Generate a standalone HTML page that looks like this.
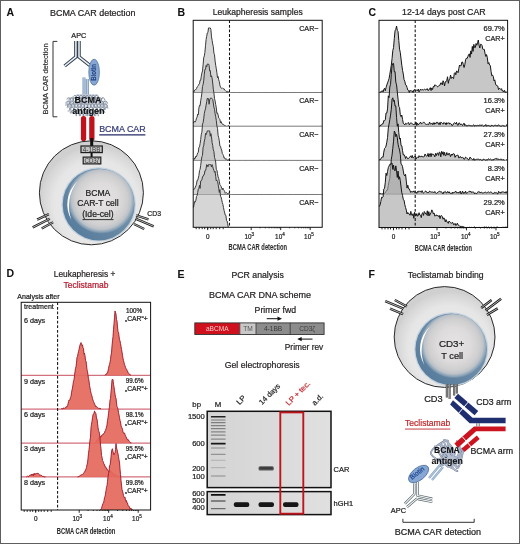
<!DOCTYPE html><html><head><meta charset="utf-8"><style>html,body{margin:0;padding:0;background:#fff}svg{display:block;will-change:transform}text{font-family:"Liberation Sans",sans-serif}</style></head><body>
<svg width="520" height="544" viewBox="0 0 520 544">
<defs>
<linearGradient id="ring" x1="0.1" y1="0.9" x2="0.9" y2="0.1"><stop offset="0" stop-color="#557b9b"/><stop offset="1" stop-color="#8099b0"/></linearGradient>
<radialGradient id="nin" cx="0.52" cy="0.45" r="0.5">
<stop offset="0" stop-color="#e6e4e4"/><stop offset="0.5" stop-color="#dddbdb"/><stop offset="0.75" stop-color="#d0cfd0"/><stop offset="0.87" stop-color="#bfc4c9" stop-opacity="0.97"/><stop offset="0.95" stop-color="#a3b5c4" stop-opacity="0.6"/><stop offset="1" stop-color="#8fa8bd" stop-opacity="0"/></radialGradient>
<radialGradient id="cell" cx="0.55" cy="0.6" r="0.55">
<stop offset="0" stop-color="#eeeeee"/><stop offset="0.75" stop-color="#e6e6e6"/><stop offset="0.95" stop-color="#d6d6d6"/><stop offset="1" stop-color="#d0d0d0"/></radialGradient>
<linearGradient id="gelg" x1="0" x2="1" y1="0" y2="0"><stop offset="0" stop-color="#d4d4d4"/><stop offset="0.5" stop-color="#dadada"/><stop offset="1" stop-color="#e0e0e0"/></linearGradient>
<filter id="bl" x="-20%" y="-100%" width="140%" height="300%"><feGaussianBlur stdDeviation="0.55"/></filter>
</defs>
<rect x="0" y="0" width="520" height="544" fill="#fff"/>
<text x="6.5" y="15.5" font-size="10.5" font-weight="bold" fill="#111" stroke="#111" stroke-width="0.05">A</text>
<text x="177.6" y="15.5" font-size="10.5" font-weight="bold" fill="#111" stroke="#111" stroke-width="0.05">B</text>
<text x="368.6" y="15.5" font-size="10.5" font-weight="bold" fill="#111" stroke="#111" stroke-width="0.05">C</text>
<text x="6.6" y="277.4" font-size="10.5" font-weight="bold" fill="#111" stroke="#111" stroke-width="0.05">D</text>
<text x="177.6" y="277.5" font-size="10.5" font-weight="bold" fill="#111" stroke="#111" stroke-width="0.05">E</text>
<text x="368.4" y="277.5" font-size="10.5" font-weight="bold" fill="#111" stroke="#111" stroke-width="0.05">F</text>
<text x="50" y="15.5" font-size="8.7" fill="#231f20" stroke="#231f20" stroke-width="0.22" textLength="85.5" lengthAdjust="spacingAndGlyphs">BCMA CAR detection</text>
<text x="212.7" y="15.4" font-size="8.7" fill="#231f20" stroke="#231f20" stroke-width="0.22" textLength="90" lengthAdjust="spacingAndGlyphs">Leukapheresis samples</text>
<text x="402" y="15.2" font-size="8.7" fill="#231f20" stroke="#231f20" stroke-width="0.22" textLength="83.6" lengthAdjust="spacingAndGlyphs">12-14 days post CAR</text>
<text x="53.8" y="277.3" font-size="8.7" fill="#231f20" stroke="#231f20" stroke-width="0.22" textLength="61.5" lengthAdjust="spacingAndGlyphs">Leukapheresis +</text>
<text x="63.5" y="287.9" font-size="8.7" fill="#b5182e" stroke="#b5182e" stroke-width="0.22" textLength="45" lengthAdjust="spacingAndGlyphs">Teclistamab</text>
<text x="231.5" y="277.5" font-size="8.7" fill="#231f20" stroke="#231f20" stroke-width="0.22" textLength="52.3" lengthAdjust="spacingAndGlyphs">PCR analysis</text>
<text x="407.7" y="277.5" font-size="8.7" fill="#231f20" stroke="#231f20" stroke-width="0.22" textLength="76" lengthAdjust="spacingAndGlyphs">Teclistamab binding</text>
<path d="M57.3,41.4 H53 V116.8 H57.3" fill="none" stroke="#333" stroke-width="1"/>
<text transform="translate(48.2,114.4) rotate(-90)" font-size="7.5" fill="#333" stroke="#333" stroke-width="0.2" textLength="71" lengthAdjust="spacingAndGlyphs">BCMA CAR detection</text>
<text x="71.3" y="37.5" font-size="7" fill="#231f20" stroke="#231f20" stroke-width="0.22" textLength="15" lengthAdjust="spacingAndGlyphs">APC</text>
<path d="M75.9,41 V56.8 L64.6,66 M79,41 V56.8 L89.8,65.3" fill="none" stroke="#34424f" stroke-width="3.5" stroke-linejoin="miter"/>
<path d="M75.9,41 V56.8 L64.6,66 M79,41 V56.8 L89.8,65.3" fill="none" stroke="#eef3f8" stroke-width="1.5" stroke-linejoin="miter"/>
<path d="M84,77.5 V97 M87.4,79 V97" stroke="#86a0bf" stroke-width="3.1"/>
<path d="M84,77.5 V97 M87.4,79 V97" stroke="#bfd0e4" stroke-width="1.1"/>
<ellipse cx="94.1" cy="72.2" rx="5.3" ry="13" fill="#86a6d3" stroke="#56779f" stroke-width="0.8"/>
<text transform="translate(96.3,80.7) rotate(-90)" font-size="7" fill="#1a3a7a" stroke="#1a3a7a" stroke-width="0.2" textLength="16.7" lengthAdjust="spacingAndGlyphs">Biotin</text>
<path d="M75.8,95.2 L76.6,96.5 L76.4,97.5 L76.0,97.2 L76.2,95.8 L77.5,94.8 L79.0,95.2 L79.7,96.6 L79.4,97.6 L79.0,97.1 L79.3,95.7 L80.7,94.8 L82.1,95.3 L82.7,96.7 L82.4,97.6 L82.0,97.0 L82.5,95.6 L83.8,94.8 L85.3,95.4 L85.8,96.9 L85.4,97.6 L85.1,96.9 L85.6,95.4 L87.0,94.8 L88.4,95.6 L88.8,97.0 L88.4,97.6 L88.1,96.8 L88.8,95.3 L90.2,94.8 L91.5,95.7 L91.9,97.1 L91.5,97.6 L91.2,96.6 L91.9,95.2 L93.4,94.8 L94.7,95.8 L94.9,97.2 L94.5,97.5 L94.3,96.5 L95.1,95.2 L96.6,94.8 L97.8,95.9 L98.0,97.2 M68.7,99.9 L69.3,98.8 L70.4,98.2 L71.7,98.4 L72.7,99.3 L73.0,100.4 L72.8,100.9 L72.6,100.6 L72.7,99.7 L73.5,98.6 L74.7,98.1 L76.0,98.5 L76.8,99.5 L77.0,100.5 L76.8,100.9 L76.6,100.5 L76.9,99.4 L77.7,98.5 L79.0,98.2 L80.2,98.7 L80.9,99.8 L81.0,100.7 L80.7,100.9 L80.6,100.3 L81.0,99.2 L82.0,98.3 L83.3,98.2 L84.4,98.9 L85.0,100.0 L84.9,100.8 L84.7,100.8 L84.6,100.1 L85.2,99.0 L86.3,98.2 L87.6,98.3 L88.6,99.2 L89.0,100.2 L88.9,100.9 L88.6,100.7 L88.7,99.8 L89.4,98.7 L90.6,98.2 L91.8,98.4 L92.7,99.4 L93.0,100.5 L92.8,100.9 L92.6,100.6 L92.8,99.6 L93.6,98.5 L94.8,98.1 L96.1,98.6 L96.8,99.6 L97.0,100.6 L96.8,100.9 L96.6,100.4 L96.9,99.3 L97.8,98.4 L99.1,98.2 L100.3,98.8 L100.9,99.9 L101.0,100.8 L100.7,100.9 L100.6,100.2 L101.1,99.1 L102.1,98.3 L103.4,98.2 M66.9,101.7 L67.6,102.8 L67.7,103.8 L67.4,104.0 L67.3,103.3 L67.7,102.2 L68.7,101.4 L70.0,101.3 L71.1,102.1 L71.6,103.2 L71.5,103.9 L71.2,103.9 L71.2,103.0 L71.9,101.9 L73.0,101.2 L74.3,101.5 L75.2,102.4 L75.5,103.5 L75.3,104.0 L75.1,103.6 L75.3,102.6 L76.1,101.6 L77.3,101.2 L78.5,101.7 L79.3,102.8 L79.4,103.7 L79.1,104.0 L79.0,103.4 L79.4,102.3 L80.3,101.4 L81.6,101.3 L82.7,102.0 L83.3,103.1 L83.2,103.9 L82.9,103.9 L82.9,103.0 L83.5,101.9 L84.6,101.3 L85.9,101.4 L86.9,102.3 L87.2,103.4 L87.0,104.0 L86.8,103.7 L86.9,102.7 L87.7,101.6 L89.0,101.2 L90.2,101.7 L91.0,102.7 L91.1,103.7 L90.8,104.0 L90.7,103.4 L91.0,102.3 L92.0,101.4 L93.3,101.3 L94.4,102.0 L95.0,103.1 L94.9,103.9 L94.7,103.9 L94.6,103.1 L95.2,102.0 L96.3,101.3 L97.6,101.4 L98.5,102.3 L98.9,103.4 L98.8,104.0 L98.5,103.7 L98.6,102.7 L99.4,101.7 L100.6,101.2 L101.8,101.6 L102.6,102.6 L102.8,103.7 L102.6,104.0 L102.4,103.5 L102.7,102.4 L103.6,101.4 L104.9,101.2 L106.0,101.9 L106.6,103.0 M65.9,106.0 L65.9,104.7 L67.0,103.5 L68.5,103.7 L69.5,104.9 L69.4,106.1 L68.9,105.9 L69.0,104.7 L70.1,103.5 L71.6,103.7 L72.5,105.0 L72.4,106.1 L72.0,105.9 L72.1,104.6 L73.2,103.5 L74.7,103.7 L75.6,105.0 L75.5,106.1 L75.0,105.9 L75.2,104.6 L76.3,103.5 L77.8,103.7 L78.7,105.0 L78.5,106.1 L78.1,105.9 L78.2,104.6 L79.4,103.5 L80.9,103.7 L81.7,105.0 L81.6,106.1 L81.1,105.9 L81.3,104.6 L82.5,103.5 L84.0,103.7 L84.8,105.1 L84.7,106.1 L84.2,105.9 L84.4,104.5 L85.6,103.5 L87.0,103.8 L87.9,105.1 L87.7,106.1 L87.2,105.8 L87.4,104.5 L88.6,103.5 L90.1,103.8 L90.9,105.1 L90.8,106.1 L90.3,105.8 L90.5,104.5 L91.7,103.5 L93.2,103.8 L94.0,105.2 L93.8,106.2 L93.3,105.8 L93.6,104.4 L94.8,103.5 L96.3,103.8 L97.1,105.2 L96.9,106.2 L96.4,105.8 L96.7,104.4 L97.9,103.4 L99.4,103.8 L100.1,105.2 L99.9,106.2 L99.5,105.8 L99.8,104.4 L101.0,103.4 L102.5,103.9 L103.2,105.2 L103.0,106.2 L102.5,105.7 L102.8,104.4 L104.1,103.4 L105.6,103.9 L106.3,105.3 L106.0,106.2 L105.6,105.7 M66.9,108.1 L67.9,107.0 L69.2,106.9 L70.3,107.6 L70.8,108.8 L70.7,109.6 L70.4,109.4 L70.5,108.3 L71.3,107.2 L72.6,106.8 L73.8,107.4 L74.5,108.6 L74.4,109.5 L74.1,109.5 L74.1,108.6 L74.7,107.4 L75.9,106.8 L77.2,107.2 L78.1,108.3 L78.2,109.3 L77.9,109.6 L77.7,108.9 L78.2,107.7 L79.3,106.9 L80.6,107.0 L81.6,108.0 L81.9,109.1 L81.6,109.6 L81.4,109.1 L81.7,108.0 L82.7,107.0 L84.0,106.9 L85.1,107.7 L85.6,108.9 L85.4,109.6 L85.1,109.3 L85.2,108.2 L86.1,107.2 L87.4,106.8 L88.6,107.5 L89.2,108.7 L89.1,109.5 L88.8,109.5 L88.8,108.5 L89.5,107.4 L90.8,106.8 L92.0,107.3 L92.8,108.4 L92.9,109.4 L92.6,109.6 L92.4,108.8 L93.0,107.6 L94.1,106.9 L95.5,107.1 L96.4,108.1 L96.6,109.2 L96.3,109.6 L96.1,109.0 L96.5,107.9 L97.5,107.0 L98.9,106.9 L99.9,107.8 L100.3,109.0 L100.1,109.6 L99.8,109.2 L100.0,108.1 L100.9,107.1 L102.2,106.8 L103.4,107.6 L103.9,108.7 L103.8,109.5 L103.5,109.4 L103.6,108.4 L104.3,107.3 L105.6,106.8 L106.9,107.3 L107.6,108.5 M67.6,111.5 L68.8,110.5 L70.3,110.8 L71.0,112.2 L70.8,113.2 L70.4,112.8 L70.6,111.4 L71.9,110.5 L73.3,110.9 L74.1,112.3 L73.8,113.2 L73.4,112.7 L73.7,111.4 L75.0,110.5 L76.4,111.0 L77.1,112.4 L76.8,113.2 L76.4,112.7 L76.8,111.3 L78.1,110.4 L79.5,111.0 L80.1,112.4 L79.8,113.2 L79.4,112.6 L79.8,111.2 L81.2,110.4 L82.6,111.1 L83.1,112.5 L82.8,113.2 L82.4,112.5 L82.9,111.1 L84.3,110.4 L85.7,111.2 L86.1,112.6 L85.8,113.2 L85.4,112.5 L86.0,111.1 L87.4,110.4 L88.7,111.2 L89.2,112.6 L88.7,113.2 L88.4,112.4 L89.1,111.0 L90.5,110.4 L91.8,111.3 L92.2,112.7 L91.7,113.2 L91.5,112.3 L92.1,110.9 L93.6,110.5 L94.9,111.4 L95.2,112.8 L94.7,113.2 L94.5,112.2 L95.2,110.9 L96.7,110.5 L97.9,111.5 L98.2,112.8 L97.7,113.2 L97.5,112.2 L98.3,110.8 L99.8,110.5 L101.0,111.5 L101.2,112.9 L100.7,113.2 L100.6,112.1 L101.4,110.8 L102.9,110.5 L104.0,111.6 L104.2,112.9 M76.2,115.3 L76.0,114.4 L76.7,113.1 L78.1,112.6 L79.4,113.4 L79.9,114.7 L79.5,115.4 L79.2,114.7 L79.7,113.4 L81.0,112.6 L82.4,113.1 L83.1,114.4 L82.9,115.3 L82.4,115.0 L82.7,113.7 L83.8,112.7 L85.3,112.9 L86.2,114.1 L86.2,115.2 L85.7,115.2 L85.7,114.0 L86.7,112.8 L88.2,112.7 L89.3,113.8 L89.4,115.0 L89.0,115.3 L88.9,114.4 L89.6,113.0 L91.0,112.6 L92.3,113.4 L92.7,114.8 L92.3,115.4 L92.0,114.7 L92.5,113.3 L93.9,112.6 L95.2,113.2 L95.9,114.5 L95.7,115.4 L95.2,114.9 L95.5,113.6 L96.7,112.6 L98.2,112.9" fill="none" stroke="#c3cad4" stroke-width="1.6" stroke-linejoin="round"/>
<path d="M73.0,98.1 L73.1,96.7 L74.2,95.5 L75.7,95.7 L76.7,97.0 L76.6,98.2 L76.1,98.1 L76.2,96.8 L77.3,95.5 L78.8,95.6 L79.8,97.0 L79.7,98.2 L79.2,98.2 L79.3,96.8 L80.3,95.6 L81.8,95.6 L82.8,96.9 L82.8,98.2 L82.4,98.2 L82.4,96.9 L83.4,95.6 L84.9,95.6 L85.9,96.9 L85.9,98.2 L85.5,98.2 L85.4,96.9 L86.4,95.6 L87.9,95.6 L89.0,96.8 L89.0,98.1 L88.6,98.2 L88.5,97.0 L89.5,95.7 L91.0,95.5 L92.1,96.7 L92.2,98.1 L91.7,98.3 L91.6,97.1 L92.5,95.7 L94.0,95.5 L95.1,96.7 L95.3,98.1 L94.8,98.3 L94.7,97.1 L95.6,95.7 L97.1,95.5 L98.2,96.6 L98.4,98.0 L97.9,98.3 M66.8,99.5 L67.5,98.1 L69.0,97.7 L70.2,98.7 L70.5,100.1 L70.1,100.6 L69.9,99.7 L70.5,98.2 L72.0,97.6 L73.3,98.5 L73.7,100.0 L73.3,100.6 L73.0,99.8 L73.5,98.3 L74.9,97.6 L76.3,98.4 L76.8,99.9 L76.4,100.6 L76.1,99.9 L76.6,98.4 L77.9,97.6 L79.3,98.3 L79.9,99.7 L79.6,100.6 L79.2,100.0 L79.6,98.6 L80.9,97.6 L82.3,98.2 L83.0,99.6 L82.8,100.6 L82.3,100.2 L82.6,98.7 L83.8,97.7 L85.3,98.0 L86.1,99.5 L85.9,100.6 L85.5,100.3 L85.7,98.9 L86.8,97.7 L88.3,97.9 L89.2,99.3 L89.1,100.5 L88.6,100.4 L88.7,99.0 L89.8,97.8 L91.3,97.9 L92.2,99.2 L92.2,100.4 L91.8,100.4 L91.8,99.2 L92.7,97.9 L94.2,97.8 L95.3,99.0 L95.4,100.3 L94.9,100.5 L94.8,99.3 L95.7,98.0 L97.2,97.7 L98.3,98.9 L98.5,100.3 L98.1,100.6 L97.9,99.5 L98.7,98.1 L100.2,97.7 L101.4,98.7 L101.7,100.1 L101.2,100.6 L101.0,99.6 L101.7,98.2 L103.1,97.6 L104.4,98.6 L104.8,100.0 M65.9,103.6 L66.0,102.5 L66.9,101.4 L68.2,101.0 L69.4,101.6 L70.0,102.8 L70.0,103.8 L69.7,103.8 L69.7,102.9 L70.3,101.7 L71.5,101.0 L72.8,101.3 L73.6,102.4 L73.8,103.6 L73.5,103.9 L73.3,103.3 L73.7,102.1 L74.8,101.1 L76.1,101.1 L77.2,102.0 L77.6,103.2 L77.4,103.9 L77.1,103.6 L77.3,102.5 L78.1,101.3 L79.4,101.0 L80.6,101.6 L81.3,102.9 L81.2,103.8 L80.9,103.8 L80.9,102.9 L81.5,101.6 L82.7,101.0 L84.0,101.3 L84.9,102.4 L85.0,103.6 L84.8,103.9 L84.6,103.3 L85.0,102.0 L86.0,101.1 L87.4,101.1 L88.4,102.0 L88.8,103.3 L88.6,103.9 L88.3,103.6 L88.5,102.4 L89.4,101.3 L90.7,101.0 L91.9,101.7 L92.5,102.9 L92.4,103.8 L92.1,103.8 L92.1,102.8 L92.7,101.6 L94.0,101.0 L95.3,101.3 L96.1,102.5 L96.2,103.6 L96.0,103.9 L95.8,103.2 L96.2,102.0 L97.3,101.1 L98.6,101.1 L99.6,102.1 L100.0,103.3 L99.8,103.9 L99.5,103.5 L99.7,102.4 L100.6,101.3 L101.9,101.0 L103.1,101.7 L103.7,102.9 L103.6,103.8 L103.3,103.8 L103.3,102.8 L104.0,101.6 L105.2,101.0 L106.5,101.4 L107.3,102.5 L107.5,103.6 M67.1,104.2 L68.0,105.4 L68.0,106.6 L67.6,106.7 L67.5,105.6 L68.3,104.3 L69.8,103.9 L71.0,104.8 L71.4,106.2 L71.1,106.8 L70.8,106.2 L71.2,104.8 L72.4,103.9 L73.8,104.2 L74.6,105.6 L74.6,106.7 L74.1,106.6 L74.1,105.5 L75.0,104.2 L76.5,103.9 L77.6,104.9 L78.0,106.3 L77.6,106.8 L77.3,106.1 L77.8,104.7 L79.1,103.9 L80.5,104.3 L81.2,105.7 L81.1,106.7 L80.7,106.6 L80.8,105.4 L81.7,104.1 L83.1,103.9 L84.3,105.0 L84.5,106.4 L84.2,106.8 L83.9,106.0 L84.5,104.6 L85.8,103.8 L87.1,104.4 L87.8,105.8 L87.7,106.8 L87.3,106.5 L87.4,105.2 L88.4,104.1 L89.8,104.0 L90.9,105.1 L91.1,106.4 L90.7,106.8 L90.5,105.9 L91.1,104.5 L92.5,103.8 L93.8,104.5 L94.4,105.9 L94.2,106.8 L93.8,106.5 L94.0,105.1 L95.1,104.0 L96.5,104.0 L97.5,105.2 L97.7,106.5 L97.3,106.8 L97.1,105.8 L97.8,104.4 L99.2,103.8 L100.5,104.6 L101.0,106.0 L100.8,106.8 L100.4,106.4 L100.7,105.0 L101.8,104.0 L103.2,104.1 L104.2,105.3 L104.3,106.6 L103.8,106.7 L103.7,105.7 L104.5,104.3 L105.9,103.9 L107.1,104.7 L107.6,106.1 L107.3,106.8 L107.0,106.3 M69.2,107.6 L69.9,108.8 L70.1,109.8 L69.8,110.1 L69.6,109.5 L70.0,108.3 L71.0,107.4 L72.3,107.2 L73.4,108.0 L73.9,109.2 L73.9,110.1 L73.6,110.0 L73.6,109.1 L74.2,107.9 L75.3,107.2 L76.6,107.4 L77.6,108.4 L77.9,109.6 L77.7,110.1 L77.4,109.7 L77.6,108.6 L78.4,107.5 L79.7,107.2 L80.9,107.7 L81.6,108.9 L81.7,109.9 L81.4,110.1 L81.3,109.4 L81.7,108.2 L82.8,107.3 L84.1,107.3 L85.2,108.1 L85.6,109.3 L85.5,110.1 L85.2,109.9 L85.3,109.0 L85.9,107.8 L87.1,107.2 L88.4,107.5 L89.3,108.6 L89.5,109.7 L89.3,110.2 L89.1,109.7 L89.3,108.5 L90.2,107.5 L91.5,107.2 L92.7,107.8 L93.4,109.0 L93.4,110.0 L93.1,110.1 L93.0,109.3 L93.5,108.1 L94.6,107.3 L95.9,107.3 L96.9,108.2 L97.3,109.4 L97.2,110.1 L96.9,109.9 L97.0,108.9 L97.7,107.7 L98.9,107.2 L100.2,107.6 L101.0,108.7 L101.2,109.8 L101.0,110.1 L100.8,109.6 L101.1,108.4 L102.0,107.4 L103.3,107.2 L104.5,107.9 L105.1,109.1 L105.0,110.0 L104.7,110.0 L104.7,109.2 L105.2,108.0 L106.4,107.2 L107.7,107.4 L108.6,108.3 M71.0,113.1 L71.2,111.9 L72.1,110.8 L73.5,110.5 L74.6,111.3 L75.2,112.6 L75.1,113.4 L74.8,113.3 L74.8,112.2 L75.6,111.0 L76.8,110.5 L78.1,111.1 L78.8,112.3 L78.9,113.3 L78.5,113.4 L78.4,112.5 L79.0,111.3 L80.2,110.5 L81.5,110.8 L82.4,112.0 L82.6,113.1 L82.3,113.5 L82.1,112.8 L82.5,111.6 L83.6,110.6 L85.0,110.7 L86.0,111.7 L86.3,112.9 L86.1,113.5 L85.8,113.0 L86.1,111.9 L87.0,110.8 L88.3,110.6 L89.5,111.4 L90.0,112.6 L89.9,113.4 L89.6,113.2 L89.7,112.2 L90.4,111.0 L91.7,110.5 L93.0,111.1 L93.7,112.3 L93.7,113.3 L93.3,113.4 L93.3,112.5 L93.9,111.2 L95.1,110.5 L96.4,110.9 L97.3,112.0 L97.4,113.2 L97.1,113.5 L97.0,112.8 L97.4,111.5 L98.5,110.6 L99.8,110.7 L100.8,111.7 L101.2,112.9 L100.9,113.5 L100.7,113.0 L100.9,111.8 L101.9,110.7 L103.2,110.6 L104.4,111.4 L104.9,112.7 M76.7,115.5 L76.4,116.1 L76.2,115.5 L76.5,114.3 L77.5,113.2 L78.9,113.2 L80.0,114.2 L80.3,115.5 L80.1,116.1 L79.8,115.5 L80.1,114.3 L81.1,113.2 L82.5,113.2 L83.6,114.2 L83.9,115.5 L83.7,116.1 L83.4,115.5 L83.7,114.3 L84.8,113.2 L86.2,113.2 L87.2,114.2 L87.6,115.5 L87.3,116.1 L87.0,115.5 L87.4,114.3 L88.4,113.2 L89.8,113.2 L90.9,114.2 L91.2,115.5 L91.0,116.1 L90.7,115.5 L91.0,114.3 L92.0,113.2 L93.4,113.2 L94.5,114.2 L94.8,115.5 L94.6,116.1 L94.3,115.5 L94.6,114.3 L95.6,113.2 L97.0,113.2 L98.1,114.2 L98.5,115.5 L98.2,116.1 L97.9,115.6" fill="none" stroke="#7c8798" stroke-width="0.85" stroke-linejoin="round"/>
<text x="74.6" y="103" font-size="8.6" font-weight="bold" fill="#111" stroke="#111" stroke-width="0.05" textLength="27" lengthAdjust="spacingAndGlyphs">BCMA</text>
<text x="72.3" y="113.8" font-size="8.6" font-weight="bold" fill="#111" stroke="#111" stroke-width="0.05" textLength="32.3" lengthAdjust="spacingAndGlyphs">antigen</text>
<rect x="80.9" y="116" width="5.3" height="25" rx="2.6" fill="#c0121c"/>
<rect x="89.2" y="116" width="5.3" height="25" rx="2.6" fill="#c0121c"/>
<circle cx="91.4" cy="192.8" r="52" fill="url(#cell)" stroke="#2a2a2a" stroke-width="1"/>
<rect x="90.2" y="138" width="3" height="8" fill="#111"/>
<rect x="90.6" y="152" width="2" height="5" fill="#111"/>
<rect x="81" y="146" width="21.3" height="6.6" fill="#c4c4c4" stroke="#1e1e1e" stroke-width="1.2"/>
<text x="91.6" y="151.7" font-size="6.3" fill="#333" text-anchor="middle" textLength="17.5" lengthAdjust="spacingAndGlyphs">4-1BB</text>
<rect x="83.2" y="157.1" width="17.6" height="6.8" fill="#c4c4c4" stroke="#1e1e1e" stroke-width="1.2"/>
<text x="92" y="162.9" font-size="6.3" fill="#333" text-anchor="middle" textLength="15" lengthAdjust="spacingAndGlyphs">CD3ζ</text>
<text x="99.2" y="131.9" font-size="8.9" fill="#363c78" stroke="#363c78" stroke-width="0.22" textLength="46.5" lengthAdjust="spacingAndGlyphs">BCMA CAR</text>
<rect x="99.2" y="134.1" width="46.2" height="1.5" fill="#4a4e80"/>
<circle cx="98.7" cy="204.4" r="37.199999999999996" fill="#c3d2de"/>
<circle cx="98.7" cy="204.4" r="36.0" fill="url(#ring)"/>
<circle cx="100.0" cy="203.1" r="34.099999999999994" fill="url(#nin)"/>
<path d="M77.3,181.4 A31.4,31.4 0 0 0 71.5,220.1 A40.52,40.52 0 0 1 77.3,181.4 Z" fill="#fff" opacity="1"/>
<text x="97.9" y="195.8" font-size="8.6" fill="#222" stroke="#222" stroke-width="0.22" text-anchor="middle">BCMA</text>
<text x="97.9" y="206.4" font-size="8.6" fill="#222" stroke="#222" stroke-width="0.22" text-anchor="middle">CAR-T cell</text>
<text x="97.9" y="216.6" font-size="8.6" fill="#222" stroke="#222" stroke-width="0.22" text-anchor="middle">(Ide-cel)</text>
<rect x="82.5" y="219.2" width="31" height="0.9" fill="#222"/>
<path d="M37.1,219.7 L48.9,214.1 M32.7,227.4 L49.8,218.7 M41.7,228.5 L53.1,222.3" stroke="#1a1a1a" stroke-width="2.4" fill="none"/>
<path d="M37.1,219.7 L48.9,214.1 M32.7,227.4 L49.8,218.7 M41.7,228.5 L53.1,222.3" stroke="#d8d8d8" stroke-width="0.8" fill="none"/>
<path d="M136.1,215.4 L148.5,219.4 M135.5,218.6 L153.7,226.3 M134,224 L144.2,229" stroke="#1a1a1a" stroke-width="2.4" fill="none"/>
<path d="M136.1,215.4 L148.5,219.4 M135.5,218.6 L153.7,226.3 M134,224 L144.2,229" stroke="#d8d8d8" stroke-width="0.8" fill="none"/>
<text x="147.3" y="215.7" font-size="7.2" fill="#222" stroke="#222" stroke-width="0.22" textLength="13.8" lengthAdjust="spacingAndGlyphs">CD3</text>
<line x1="193.2" y1="92.5" x2="322.2" y2="92.5" stroke="#555" stroke-width="0.8"/>
<line x1="193.2" y1="126.2" x2="322.2" y2="126.2" stroke="#555" stroke-width="0.8"/>
<line x1="193.2" y1="160.4" x2="322.2" y2="160.4" stroke="#555" stroke-width="0.8"/>
<line x1="193.2" y1="194.5" x2="322.2" y2="194.5" stroke="#555" stroke-width="0.8"/>
<path d="M193.20,92.50 L193.50,91.40 L194.10,91.75 L194.70,90.05 L195.30,89.53 L195.90,89.62 L196.50,88.60 L197.10,86.95 L197.70,86.43 L198.30,85.52 L198.90,84.14 L199.50,83.77 L200.10,80.15 L200.70,80.26 L201.30,76.18 L201.90,73.06 L202.50,70.94 L203.10,64.85 L203.70,57.93 L204.30,55.91 L204.90,52.35 L205.50,45.74 L206.10,39.46 L206.70,36.27 L207.30,32.93 L207.90,32.59 L208.50,27.96 L209.10,27.96 L209.70,27.96 L210.30,27.96 L210.90,29.61 L211.50,36.91 L212.10,40.34 L212.70,44.10 L213.30,46.54 L213.90,53.08 L214.50,54.85 L215.10,61.05 L215.70,65.25 L216.30,68.78 L216.90,72.82 L217.50,77.75 L218.10,76.52 L218.70,79.81 L219.30,81.71 L219.90,85.16 L220.50,87.23 L221.10,87.96 L221.70,88.46 L222.30,87.90 L222.90,88.51 L223.50,88.72 L224.10,88.81 L224.70,90.09 L225.30,90.50 L225.90,91.13 L226.50,91.34 L227.10,91.91 L227.70,91.34 L228.30,91.58 L228.90,92.01 L229.50,92.27 L230.10,92.10 L230.70,92.10 L231.30,92.17 L231.90,92.16 L232.50,92.48 L233.10,92.42 L233.70,92.47 L234.30,92.49 L234.90,92.50 L235.50,92.32 L236.10,92.10 L236.70,92.50 L237.30,92.10 L237.90,92.50 L238.50,92.50 L239.10,92.50 L239.70,92.50 L240.30,92.30 L240.90,92.50 L241.50,92.29 L242.10,92.48 L242.70,92.44 L243.30,92.17 L243.90,92.50 L244.50,92.50 L245.10,92.50 L245.70,92.26 L246.30,92.10 L246.90,92.50 L247.50,92.50 L248.10,92.50 L248.70,92.37 L249.30,92.50 L249.90,92.50 L250.50,92.47 L251.10,92.48 L251.70,92.50 L252.30,92.24 L252.90,92.50 L253.50,92.50 L254.10,92.50 L254.70,92.48 L255.30,92.50 L255.90,92.10 L256.50,92.50 L257.10,92.35 L257.70,92.50 L258.30,92.42 L258.90,92.50 L259.50,92.50 L260.10,92.11 L260.70,92.50 L261.30,92.10 L261.90,92.50 L262.50,92.50 L263.10,92.23 L263.70,92.50 L264.30,92.50 L264.90,92.50 L265.50,92.39 L266.10,92.36 L266.70,92.50 L267.30,92.50 L267.90,92.30 L268.50,92.39 L269.10,92.50 L269.70,92.48 L270.30,92.10 L270.90,92.47 L271.50,92.50 L272.10,92.50 L272.70,92.50 L273.30,92.42 L273.90,92.28 L274.50,92.50 L275.10,92.50 L275.70,92.25 L276.30,92.32 L276.90,92.17 L277.50,92.50 L278.10,92.50 L278.70,92.26 L279.30,92.50 L279.90,92.42 L280.50,92.50 L281.10,92.50 L281.70,92.14 L282.30,92.50 L282.90,92.50 L283.50,92.50 L284.10,92.44 L284.70,92.50 L285.30,92.50 L285.90,92.50 L286.50,92.50 L287.10,92.26 L287.70,92.15 L288.30,92.21 L288.90,92.50 L289.50,92.40 L290.10,92.34 L290.70,92.50 L291.30,92.30 L291.90,92.50 L292.50,92.50 L293.10,92.50 L293.70,92.50 L294.30,92.50 L294.90,92.27 L295.50,92.50 L296.10,92.50 L296.70,92.50 L297.30,92.10 L297.90,92.50 L298.50,92.39 L299.10,92.10 L299.70,92.50 L300.30,92.50 L300.90,92.50 L301.50,92.50 L302.10,92.20 L302.70,92.50 L303.30,92.25 L303.90,92.37 L304.50,92.50 L305.10,92.27 L305.70,92.50 L306.30,92.25 L306.90,92.50 L307.50,92.50 L308.10,92.21 L308.70,92.50 L309.30,92.39 L309.90,92.50 L310.50,92.50 L311.10,92.50 L311.70,92.19 L312.30,92.50 L312.90,92.30 L313.50,92.39 L314.10,92.50 L314.70,92.50 L315.30,92.33 L315.90,92.50 L316.50,92.50 L317.10,92.43 L317.70,92.50 L318.30,92.50 L318.90,92.49 L319.50,92.32 L320.10,92.10 L320.70,92.42 L321.30,92.47 L321.90,92.30 L322.20,92.50" fill="rgba(182,182,182,0.56)"/>
<path d="M193.50,91.40 L194.10,91.75 L194.70,90.05 L195.30,89.53 L195.90,89.62 L196.50,88.60 L197.10,86.95 L197.70,86.43 L198.30,85.52 L198.90,84.14 L199.50,83.77 L200.10,80.15 L200.70,80.26 L201.30,76.18 L201.90,73.06 L202.50,70.94 L203.10,64.85 L203.70,57.93 L204.30,55.91 L204.90,52.35 L205.50,45.74 L206.10,39.46 L206.70,36.27 L207.30,32.93 L207.90,32.59 L208.50,27.96 L209.10,27.96 L209.70,27.96 L210.30,27.96 L210.90,29.61 L211.50,36.91 L212.10,40.34 L212.70,44.10 L213.30,46.54 L213.90,53.08 L214.50,54.85 L215.10,61.05 L215.70,65.25 L216.30,68.78 L216.90,72.82 L217.50,77.75 L218.10,76.52 L218.70,79.81 L219.30,81.71 L219.90,85.16 L220.50,87.23 L221.10,87.96 L221.70,88.46 L222.30,87.90 L222.90,88.51 L223.50,88.72 L224.10,88.81 L224.70,90.09 L225.30,90.50 L225.90,91.13 L226.50,91.34 L227.10,92.50 M227.10,92.50 L227.70,91.34 L228.30,91.58 L228.90,92.50" fill="none" stroke="#3a3a3a" stroke-width="1" stroke-linejoin="round"/>
<path d="M193.20,126.20 L193.50,123.08 L194.10,121.52 L194.70,121.47 L195.30,121.92 L195.90,120.50 L196.50,118.05 L197.10,117.15 L197.70,114.12 L198.30,114.84 L198.90,108.18 L199.50,105.32 L200.10,105.81 L200.70,100.83 L201.30,97.32 L201.90,92.87 L202.50,86.59 L203.10,84.47 L203.70,80.91 L204.30,74.21 L204.90,69.42 L205.50,69.37 L206.10,65.52 L206.70,66.90 L207.30,64.04 L207.90,64.04 L208.50,64.04 L209.10,65.29 L209.70,71.00 L210.30,70.63 L210.90,76.92 L211.50,75.75 L212.10,78.15 L212.70,83.02 L213.30,89.13 L213.90,92.82 L214.50,98.41 L215.10,100.96 L215.70,104.46 L216.30,107.91 L216.90,113.55 L217.50,112.97 L218.10,114.98 L218.70,117.91 L219.30,118.49 L219.90,119.55 L220.50,122.77 L221.10,121.57 L221.70,123.23 L222.30,124.21 L222.90,123.94 L223.50,124.85 L224.10,125.00 L224.70,125.51 L225.30,125.55 L225.90,125.95 L226.50,125.81 L227.10,126.12 L227.70,126.20 L228.30,125.46 L228.90,125.92 L229.50,125.83 L230.10,125.80 L230.70,125.84 L231.30,126.08 L231.90,126.20 L232.50,125.89 L233.10,126.00 L233.70,125.86 L234.30,126.20 L234.90,126.20 L235.50,126.20 L236.10,126.04 L236.70,126.20 L237.30,126.20 L237.90,126.07 L238.50,126.19 L239.10,126.20 L239.70,126.09 L240.30,126.20 L240.90,126.20 L241.50,125.89 L242.10,125.92 L242.70,126.20 L243.30,125.98 L243.90,126.10 L244.50,126.20 L245.10,126.20 L245.70,126.20 L246.30,125.87 L246.90,126.10 L247.50,126.20 L248.10,126.19 L248.70,125.95 L249.30,126.20 L249.90,126.20 L250.50,126.10 L251.10,126.20 L251.70,126.11 L252.30,126.20 L252.90,126.20 L253.50,126.13 L254.10,126.20 L254.70,126.20 L255.30,126.20 L255.90,126.01 L256.50,126.20 L257.10,126.20 L257.70,126.14 L258.30,126.02 L258.90,126.20 L259.50,126.20 L260.10,126.04 L260.70,126.20 L261.30,125.80 L261.90,125.88 L262.50,125.80 L263.10,126.20 L263.70,126.20 L264.30,126.20 L264.90,126.20 L265.50,126.20 L266.10,125.98 L266.70,126.20 L267.30,126.20 L267.90,125.84 L268.50,126.14 L269.10,126.09 L269.70,126.20 L270.30,126.20 L270.90,126.20 L271.50,126.15 L272.10,126.20 L272.70,126.20 L273.30,126.20 L273.90,126.20 L274.50,125.82 L275.10,126.06 L275.70,126.20 L276.30,126.20 L276.90,125.80 L277.50,125.80 L278.10,126.20 L278.70,126.10 L279.30,126.20 L279.90,126.20 L280.50,126.14 L281.10,125.80 L281.70,126.20 L282.30,126.20 L282.90,125.97 L283.50,126.20 L284.10,126.20 L284.70,126.14 L285.30,126.20 L285.90,126.09 L286.50,126.20 L287.10,126.20 L287.70,126.01 L288.30,125.80 L288.90,126.20 L289.50,126.15 L290.10,126.15 L290.70,126.20 L291.30,126.20 L291.90,126.15 L292.50,126.07 L293.10,125.80 L293.70,126.18 L294.30,126.20 L294.90,126.20 L295.50,126.20 L296.10,126.09 L296.70,125.82 L297.30,126.20 L297.90,126.20 L298.50,126.20 L299.10,126.20 L299.70,126.17 L300.30,126.20 L300.90,126.13 L301.50,125.89 L302.10,126.20 L302.70,126.20 L303.30,126.20 L303.90,126.20 L304.50,126.20 L305.10,126.20 L305.70,126.00 L306.30,126.14 L306.90,126.20 L307.50,126.20 L308.10,126.20 L308.70,126.20 L309.30,126.04 L309.90,126.20 L310.50,126.06 L311.10,126.00 L311.70,126.20 L312.30,126.03 L312.90,126.20 L313.50,126.20 L314.10,126.20 L314.70,125.89 L315.30,126.12 L315.90,126.20 L316.50,126.01 L317.10,126.04 L317.70,126.16 L318.30,126.20 L318.90,126.20 L319.50,126.20 L320.10,125.81 L320.70,126.05 L321.30,126.20 L321.90,126.03 L322.20,126.20" fill="rgba(182,182,182,0.56)"/>
<path d="M193.50,123.08 L194.10,121.52 L194.70,121.47 L195.30,121.92 L195.90,120.50 L196.50,118.05 L197.10,117.15 L197.70,114.12 L198.30,114.84 L198.90,108.18 L199.50,105.32 L200.10,105.81 L200.70,100.83 L201.30,97.32 L201.90,92.87 L202.50,86.59 L203.10,84.47 L203.70,80.91 L204.30,74.21 L204.90,69.42 L205.50,69.37 L206.10,65.52 L206.70,66.90 L207.30,64.04 L207.90,64.04 L208.50,64.04 L209.10,65.29 L209.70,71.00 L210.30,70.63 L210.90,76.92 L211.50,75.75 L212.10,78.15 L212.70,83.02 L213.30,89.13 L213.90,92.82 L214.50,98.41 L215.10,100.96 L215.70,104.46 L216.30,107.91 L216.90,113.55 L217.50,112.97 L218.10,114.98 L218.70,117.91 L219.30,118.49 L219.90,119.55 L220.50,122.77 L221.10,121.57 L221.70,123.23 L222.30,124.21 L222.90,123.94 L223.50,124.85 L224.10,125.00 L224.70,125.51 L225.30,125.55 L225.90,126.20 M227.70,126.20 L228.30,125.46 L228.90,126.20" fill="none" stroke="#3a3a3a" stroke-width="1" stroke-linejoin="round"/>
<path d="M193.20,160.40 L193.50,158.78 L194.10,159.48 L194.70,157.96 L195.30,158.28 L195.90,156.01 L196.50,156.61 L197.10,154.68 L197.70,152.95 L198.30,152.27 L198.90,147.27 L199.50,146.93 L200.10,143.70 L200.70,139.50 L201.30,134.18 L201.90,132.19 L202.50,124.17 L203.10,122.73 L203.70,118.90 L204.30,113.64 L204.90,110.74 L205.50,108.89 L206.10,105.13 L206.70,101.59 L207.30,98.21 L207.90,99.03 L208.50,98.64 L209.10,104.25 L209.70,99.98 L210.30,98.21 L210.90,98.21 L211.50,98.21 L212.10,98.48 L212.70,99.50 L213.30,102.99 L213.90,107.11 L214.50,109.31 L215.10,113.79 L215.70,116.76 L216.30,120.47 L216.90,126.00 L217.50,128.37 L218.10,135.29 L218.70,137.59 L219.30,140.84 L219.90,146.12 L220.50,146.39 L221.10,148.79 L221.70,150.12 L222.30,153.38 L222.90,154.41 L223.50,155.65 L224.10,158.07 L224.70,157.71 L225.30,159.25 L225.90,158.86 L226.50,159.05 L227.10,159.55 L227.70,160.40 L228.30,159.50 L228.90,160.04 L229.50,160.00 L230.10,160.40 L230.70,160.40 L231.30,160.00 L231.90,160.40 L232.50,160.40 L233.10,160.40 L233.70,160.13 L234.30,160.40 L234.90,160.40 L235.50,160.40 L236.10,160.00 L236.70,160.13 L237.30,160.37 L237.90,160.34 L238.50,160.40 L239.10,160.40 L239.70,160.40 L240.30,160.00 L240.90,160.40 L241.50,160.40 L242.10,160.32 L242.70,160.04 L243.30,160.28 L243.90,160.40 L244.50,160.38 L245.10,160.39 L245.70,160.40 L246.30,160.40 L246.90,160.32 L247.50,160.40 L248.10,160.00 L248.70,160.31 L249.30,160.40 L249.90,160.40 L250.50,160.40 L251.10,160.40 L251.70,160.21 L252.30,160.40 L252.90,160.40 L253.50,160.40 L254.10,160.26 L254.70,160.40 L255.30,160.40 L255.90,160.13 L256.50,160.40 L257.10,160.40 L257.70,160.40 L258.30,160.14 L258.90,160.40 L259.50,160.40 L260.10,160.37 L260.70,160.00 L261.30,160.30 L261.90,160.02 L262.50,160.10 L263.10,160.40 L263.70,160.37 L264.30,160.40 L264.90,160.39 L265.50,160.09 L266.10,160.05 L266.70,160.21 L267.30,160.09 L267.90,160.40 L268.50,160.19 L269.10,160.40 L269.70,160.40 L270.30,160.40 L270.90,160.09 L271.50,160.40 L272.10,160.20 L272.70,160.40 L273.30,160.32 L273.90,160.18 L274.50,160.36 L275.10,160.33 L275.70,160.34 L276.30,160.39 L276.90,160.40 L277.50,160.40 L278.10,160.13 L278.70,160.37 L279.30,160.36 L279.90,160.30 L280.50,160.40 L281.10,160.40 L281.70,160.40 L282.30,160.00 L282.90,160.40 L283.50,160.20 L284.10,160.40 L284.70,160.40 L285.30,160.35 L285.90,160.40 L286.50,160.11 L287.10,160.40 L287.70,160.39 L288.30,160.10 L288.90,160.00 L289.50,160.29 L290.10,160.40 L290.70,160.40 L291.30,160.08 L291.90,160.40 L292.50,160.40 L293.10,160.40 L293.70,160.13 L294.30,160.28 L294.90,160.40 L295.50,160.40 L296.10,160.39 L296.70,160.40 L297.30,160.40 L297.90,160.40 L298.50,160.40 L299.10,160.40 L299.70,160.40 L300.30,160.40 L300.90,160.40 L301.50,160.29 L302.10,160.28 L302.70,160.40 L303.30,160.33 L303.90,160.40 L304.50,160.40 L305.10,160.21 L305.70,160.33 L306.30,160.26 L306.90,160.40 L307.50,160.00 L308.10,160.27 L308.70,160.40 L309.30,160.00 L309.90,160.40 L310.50,160.03 L311.10,160.40 L311.70,160.40 L312.30,160.40 L312.90,160.40 L313.50,160.40 L314.10,160.31 L314.70,160.40 L315.30,160.40 L315.90,160.35 L316.50,160.40 L317.10,160.28 L317.70,160.40 L318.30,160.40 L318.90,160.11 L319.50,160.40 L320.10,160.00 L320.70,160.00 L321.30,160.14 L321.90,160.26 L322.20,160.40" fill="rgba(182,182,182,0.56)"/>
<path d="M193.50,158.78 L194.10,159.48 L194.70,157.96 L195.30,158.28 L195.90,156.01 L196.50,156.61 L197.10,154.68 L197.70,152.95 L198.30,152.27 L198.90,147.27 L199.50,146.93 L200.10,143.70 L200.70,139.50 L201.30,134.18 L201.90,132.19 L202.50,124.17 L203.10,122.73 L203.70,118.90 L204.30,113.64 L204.90,110.74 L205.50,108.89 L206.10,105.13 L206.70,101.59 L207.30,98.21 L207.90,99.03 L208.50,98.64 L209.10,104.25 L209.70,99.98 L210.30,98.21 L210.90,98.21 L211.50,98.21 L212.10,98.48 L212.70,99.50 L213.30,102.99 L213.90,107.11 L214.50,109.31 L215.10,113.79 L215.70,116.76 L216.30,120.47 L216.90,126.00 L217.50,128.37 L218.10,135.29 L218.70,137.59 L219.30,140.84 L219.90,146.12 L220.50,146.39 L221.10,148.79 L221.70,150.12 L222.30,153.38 L222.90,154.41 L223.50,155.65 L224.10,158.07 L224.70,157.71 L225.30,159.25 L225.90,158.86 L226.50,159.05 L227.10,159.55 L227.70,160.40 M227.70,160.40 L228.30,159.50 L228.90,160.40" fill="none" stroke="#3a3a3a" stroke-width="1" stroke-linejoin="round"/>
<path d="M193.20,194.50 L193.50,189.83 L194.10,188.97 L194.70,188.82 L195.30,187.18 L195.90,185.78 L196.50,184.11 L197.10,180.24 L197.70,180.43 L198.30,178.04 L198.90,175.53 L199.50,170.80 L200.10,169.30 L200.70,165.42 L201.30,160.40 L201.90,156.70 L202.50,155.40 L203.10,147.19 L203.70,145.81 L204.30,141.08 L204.90,138.80 L205.50,133.42 L206.10,134.61 L206.70,133.20 L207.30,130.88 L207.90,130.88 L208.50,130.88 L209.10,130.88 L209.70,130.88 L210.30,136.26 L210.90,133.59 L211.50,136.82 L212.10,142.76 L212.70,145.44 L213.30,149.73 L213.90,151.46 L214.50,157.42 L215.10,159.33 L215.70,162.00 L216.30,169.59 L216.90,170.08 L217.50,173.73 L218.10,176.96 L218.70,178.47 L219.30,181.30 L219.90,184.57 L220.50,185.41 L221.10,186.42 L221.70,188.27 L222.30,189.76 L222.90,188.06 L223.50,189.59 L224.10,190.39 L224.70,191.67 L225.30,193.32 L225.90,192.72 L226.50,192.63 L227.10,193.37 L227.70,193.64 L228.30,193.41 L228.90,192.82 L229.50,194.10 L230.10,194.10 L230.70,194.30 L231.30,194.10 L231.90,194.10 L232.50,194.22 L233.10,194.35 L233.70,194.47 L234.30,194.24 L234.90,194.10 L235.50,194.33 L236.10,194.21 L236.70,194.50 L237.30,194.31 L237.90,194.50 L238.50,194.10 L239.10,194.50 L239.70,194.29 L240.30,194.39 L240.90,194.10 L241.50,194.28 L242.10,194.27 L242.70,194.50 L243.30,194.50 L243.90,194.50 L244.50,194.50 L245.10,194.50 L245.70,194.25 L246.30,194.50 L246.90,194.48 L247.50,194.50 L248.10,194.50 L248.70,194.50 L249.30,194.23 L249.90,194.47 L250.50,194.32 L251.10,194.44 L251.70,194.50 L252.30,194.50 L252.90,194.50 L253.50,194.33 L254.10,194.49 L254.70,194.44 L255.30,194.47 L255.90,194.35 L256.50,194.50 L257.10,194.49 L257.70,194.50 L258.30,194.50 L258.90,194.42 L259.50,194.28 L260.10,194.50 L260.70,194.50 L261.30,194.50 L261.90,194.50 L262.50,194.50 L263.10,194.36 L263.70,194.11 L264.30,194.50 L264.90,194.18 L265.50,194.21 L266.10,194.50 L266.70,194.50 L267.30,194.32 L267.90,194.50 L268.50,194.50 L269.10,194.31 L269.70,194.50 L270.30,194.50 L270.90,194.34 L271.50,194.47 L272.10,194.43 L272.70,194.14 L273.30,194.17 L273.90,194.50 L274.50,194.25 L275.10,194.47 L275.70,194.39 L276.30,194.27 L276.90,194.10 L277.50,194.28 L278.10,194.50 L278.70,194.36 L279.30,194.50 L279.90,194.34 L280.50,194.42 L281.10,194.50 L281.70,194.50 L282.30,194.50 L282.90,194.50 L283.50,194.35 L284.10,194.50 L284.70,194.50 L285.30,194.50 L285.90,194.18 L286.50,194.50 L287.10,194.50 L287.70,194.10 L288.30,194.50 L288.90,194.37 L289.50,194.28 L290.10,194.45 L290.70,194.50 L291.30,194.18 L291.90,194.46 L292.50,194.34 L293.10,194.50 L293.70,194.10 L294.30,194.50 L294.90,194.50 L295.50,194.50 L296.10,194.50 L296.70,194.50 L297.30,194.46 L297.90,194.50 L298.50,194.37 L299.10,194.50 L299.70,194.50 L300.30,194.50 L300.90,194.50 L301.50,194.50 L302.10,194.50 L302.70,194.50 L303.30,194.43 L303.90,194.32 L304.50,194.20 L305.10,194.45 L305.70,194.50 L306.30,194.50 L306.90,194.50 L307.50,194.50 L308.10,194.35 L308.70,194.10 L309.30,194.50 L309.90,194.43 L310.50,194.50 L311.10,194.50 L311.70,194.50 L312.30,194.48 L312.90,194.50 L313.50,194.50 L314.10,194.50 L314.70,194.50 L315.30,194.10 L315.90,194.33 L316.50,194.50 L317.10,194.50 L317.70,194.50 L318.30,194.10 L318.90,194.50 L319.50,194.34 L320.10,194.30 L320.70,194.10 L321.30,194.10 L321.90,194.50 L322.20,194.50" fill="rgba(182,182,182,0.56)"/>
<path d="M193.50,189.83 L194.10,188.97 L194.70,188.82 L195.30,187.18 L195.90,185.78 L196.50,184.11 L197.10,180.24 L197.70,180.43 L198.30,178.04 L198.90,175.53 L199.50,170.80 L200.10,169.30 L200.70,165.42 L201.30,160.40 L201.90,156.70 L202.50,155.40 L203.10,147.19 L203.70,145.81 L204.30,141.08 L204.90,138.80 L205.50,133.42 L206.10,134.61 L206.70,133.20 L207.30,130.88 L207.90,130.88 L208.50,130.88 L209.10,130.88 L209.70,130.88 L210.30,136.26 L210.90,133.59 L211.50,136.82 L212.10,142.76 L212.70,145.44 L213.30,149.73 L213.90,151.46 L214.50,157.42 L215.10,159.33 L215.70,162.00 L216.30,169.59 L216.90,170.08 L217.50,173.73 L218.10,176.96 L218.70,178.47 L219.30,181.30 L219.90,184.57 L220.50,185.41 L221.10,186.42 L221.70,188.27 L222.30,189.76 L222.90,188.06 L223.50,189.59 L224.10,190.39 L224.70,191.67 L225.30,193.32 L225.90,192.72 L226.50,192.63 L227.10,193.37 L227.70,193.64 L228.30,193.41 L228.90,192.82 L229.50,194.50" fill="none" stroke="#3a3a3a" stroke-width="1" stroke-linejoin="round"/>
<path d="M193.20,227.30 L193.50,207.49 L194.10,204.18 L194.70,201.38 L195.30,201.92 L195.90,200.16 L196.50,196.39 L197.10,195.60 L197.70,192.39 L198.30,189.04 L198.90,188.33 L199.50,185.31 L200.10,188.36 L200.70,180.95 L201.30,180.74 L201.90,179.97 L202.50,176.70 L203.10,176.57 L203.70,174.79 L204.30,174.67 L204.90,170.73 L205.50,170.67 L206.10,168.48 L206.70,164.61 L207.30,165.07 L207.90,166.88 L208.50,164.61 L209.10,164.61 L209.70,164.61 L210.30,164.61 L210.90,164.69 L211.50,167.04 L212.10,164.61 L212.70,166.48 L213.30,168.86 L213.90,170.38 L214.50,172.31 L215.10,171.42 L215.70,176.52 L216.30,181.01 L216.90,180.24 L217.50,181.39 L218.10,184.16 L218.70,188.21 L219.30,192.45 L219.90,189.51 L220.50,196.25 L221.10,197.04 L221.70,199.73 L222.30,202.57 L222.90,204.42 L223.50,207.67 L224.10,210.50 L224.70,212.92 L225.30,215.16 L225.90,215.33 L226.50,220.48 L227.10,220.96 L227.70,223.80 L228.30,227.30 L228.90,227.30 L229.50,227.30 L230.10,227.30 L230.70,227.26 L231.30,227.24 L231.90,227.30 L232.50,227.05 L233.10,227.30 L233.70,227.30 L234.30,227.25 L234.90,227.30 L235.50,227.06 L236.10,226.92 L236.70,227.27 L237.30,227.08 L237.90,226.90 L238.50,227.13 L239.10,227.30 L239.70,227.00 L240.30,227.26 L240.90,227.30 L241.50,227.30 L242.10,227.26 L242.70,227.30 L243.30,227.23 L243.90,227.30 L244.50,227.30 L245.10,226.95 L245.70,226.90 L246.30,227.21 L246.90,227.24 L247.50,227.30 L248.10,227.20 L248.70,227.30 L249.30,227.30 L249.90,227.30 L250.50,227.30 L251.10,227.16 L251.70,227.28 L252.30,226.90 L252.90,226.96 L253.50,227.30 L254.10,227.18 L254.70,227.30 L255.30,227.10 L255.90,227.30 L256.50,227.27 L257.10,227.22 L257.70,227.29 L258.30,227.30 L258.90,227.12 L259.50,227.11 L260.10,227.30 L260.70,227.30 L261.30,227.30 L261.90,227.30 L262.50,227.26 L263.10,227.09 L263.70,227.27 L264.30,227.30 L264.90,227.04 L265.50,227.20 L266.10,227.22 L266.70,226.90 L267.30,227.02 L267.90,227.30 L268.50,226.96 L269.10,227.30 L269.70,227.23 L270.30,227.30 L270.90,227.04 L271.50,227.30 L272.10,227.18 L272.70,226.90 L273.30,227.15 L273.90,227.29 L274.50,227.30 L275.10,227.30 L275.70,227.09 L276.30,227.30 L276.90,227.30 L277.50,227.02 L278.10,227.30 L278.70,227.05 L279.30,227.17 L279.90,227.30 L280.50,227.30 L281.10,226.99 L281.70,227.30 L282.30,227.30 L282.90,227.20 L283.50,227.30 L284.10,227.30 L284.70,227.20 L285.30,227.30 L285.90,227.30 L286.50,227.16 L287.10,226.90 L287.70,227.30 L288.30,227.30 L288.90,226.90 L289.50,227.06 L290.10,227.30 L290.70,227.30 L291.30,227.30 L291.90,227.11 L292.50,227.30 L293.10,227.30 L293.70,226.90 L294.30,227.30 L294.90,227.29 L295.50,227.20 L296.10,227.04 L296.70,227.03 L297.30,226.92 L297.90,227.30 L298.50,227.18 L299.10,227.30 L299.70,227.30 L300.30,227.30 L300.90,226.90 L301.50,227.22 L302.10,227.30 L302.70,227.30 L303.30,227.30 L303.90,227.30 L304.50,227.30 L305.10,227.30 L305.70,227.30 L306.30,227.30 L306.90,227.06 L307.50,227.30 L308.10,227.30 L308.70,227.30 L309.30,226.90 L309.90,226.90 L310.50,227.19 L311.10,227.30 L311.70,227.30 L312.30,227.06 L312.90,227.29 L313.50,227.21 L314.10,227.29 L314.70,227.30 L315.30,227.30 L315.90,227.30 L316.50,227.18 L317.10,227.30 L317.70,227.27 L318.30,227.30 L318.90,227.30 L319.50,227.15 L320.10,227.30 L320.70,227.30 L321.30,226.90 L321.90,226.95 L322.20,227.30" fill="rgba(182,182,182,0.56)"/>
<path d="M193.50,207.49 L194.10,204.18 L194.70,201.38 L195.30,201.92 L195.90,200.16 L196.50,196.39 L197.10,195.60 L197.70,192.39 L198.30,189.04 L198.90,188.33 L199.50,185.31 L200.10,188.36 L200.70,180.95 L201.30,180.74 L201.90,179.97 L202.50,176.70 L203.10,176.57 L203.70,174.79 L204.30,174.67 L204.90,170.73 L205.50,170.67 L206.10,168.48 L206.70,164.61 L207.30,165.07 L207.90,166.88 L208.50,164.61 L209.10,164.61 L209.70,164.61 L210.30,164.61 L210.90,164.69 L211.50,167.04 L212.10,164.61 L212.70,166.48 L213.30,168.86 L213.90,170.38 L214.50,172.31 L215.10,171.42 L215.70,176.52 L216.30,181.01 L216.90,180.24 L217.50,181.39 L218.10,184.16 L218.70,188.21 L219.30,192.45 L219.90,189.51 L220.50,196.25 L221.10,197.04 L221.70,199.73 L222.30,202.57 L222.90,204.42 L223.50,207.67 L224.10,210.50 L224.70,212.92 L225.30,215.16 L225.90,215.33 L226.50,220.48 L227.10,220.96 L227.70,223.80 L228.30,227.30" fill="none" stroke="#3a3a3a" stroke-width="1" stroke-linejoin="round"/>
<line x1="229.5" y1="20.3" x2="229.5" y2="227.3" stroke="#111" stroke-width="1.05" stroke-dasharray="2.8,1.8"/>
<rect x="193.2" y="20.3" width="129.0" height="207.0" fill="none" stroke="#111" stroke-width="1"/>
<text x="318.5" y="30.9" font-size="7.3" fill="#222" stroke="#222" stroke-width="0.22" text-anchor="end" textLength="19.3" lengthAdjust="spacingAndGlyphs">CAR−</text>
<text x="318.5" y="103.1" font-size="7.3" fill="#222" stroke="#222" stroke-width="0.22" text-anchor="end" textLength="19.3" lengthAdjust="spacingAndGlyphs">CAR−</text>
<text x="318.5" y="136.8" font-size="7.3" fill="#222" stroke="#222" stroke-width="0.22" text-anchor="end" textLength="19.3" lengthAdjust="spacingAndGlyphs">CAR−</text>
<text x="318.5" y="171.0" font-size="7.3" fill="#222" stroke="#222" stroke-width="0.22" text-anchor="end" textLength="19.3" lengthAdjust="spacingAndGlyphs">CAR−</text>
<text x="318.5" y="205.1" font-size="7.3" fill="#222" stroke="#222" stroke-width="0.22" text-anchor="end" textLength="19.3" lengthAdjust="spacingAndGlyphs">CAR−</text>
<path d="M196.2,227.3 v1.9 M199.2,227.3 v1.9 M202.2,227.3 v1.9 M204.7,227.3 v1.9 M207.7,227.3 v1.9 M210.7,227.3 v1.9 M213.2,227.3 v1.9 M216.2,227.3 v1.9 M219.7,227.3 v1.9 M223.2,227.3 v1.9 M207.7,227.3 v2.8 M251.2,227.3 v2.8 M280.7,227.3 v2.8 M310.2,227.3 v2.8 M260.1,227.3 v1.0 M265.3,227.3 v1.0 M269.0,227.3 v1.0 M271.8,227.3 v1.0 M274.2,227.3 v1.0 M276.1,227.3 v1.0 M277.8,227.3 v1.0 M279.4,227.3 v1.0 M289.6,227.3 v1.0 M294.8,227.3 v1.0 M298.5,227.3 v1.0 M301.3,227.3 v1.0 M303.7,227.3 v1.0 M305.6,227.3 v1.0 M307.3,227.3 v1.0 M308.9,227.3 v1.0" stroke="#111" stroke-width="0.9"/>
<text x="207.7" y="238.9" font-size="6.4" fill="#222" stroke="#222" stroke-width="0.22" text-anchor="middle">0</text>
<text x="244.49999999999997" y="238.9" font-size="6.4" fill="#222" stroke="#222" stroke-width="0.2">10<tspan dy="-2.9" font-size="4.6">3</tspan></text>
<text x="275.09999999999997" y="238.9" font-size="6.4" fill="#222" stroke="#222" stroke-width="0.2">10<tspan dy="-2.9" font-size="4.6">4</tspan></text>
<text x="304.09999999999997" y="238.9" font-size="6.4" fill="#222" stroke="#222" stroke-width="0.2">10<tspan dy="-2.9" font-size="4.6">5</tspan></text>
<text x="228.6" y="250" font-size="8.3" font-weight="bold" fill="#2a2a2a" stroke="#2a2a2a" stroke-width="0.05" textLength="58.4" lengthAdjust="spacingAndGlyphs">BCMA CAR detection</text>
<line x1="379.0" y1="92.5" x2="507.6" y2="92.5" stroke="#555" stroke-width="0.8"/>
<line x1="379.0" y1="126.2" x2="507.6" y2="126.2" stroke="#555" stroke-width="0.8"/>
<line x1="379.0" y1="160.2" x2="507.6" y2="160.2" stroke="#555" stroke-width="0.8"/>
<line x1="379.0" y1="194.0" x2="507.6" y2="194.0" stroke="#555" stroke-width="0.8"/>
<path d="M379.00,92.50 L379.30,92.50 L380.05,91.72 L380.80,92.29 L381.55,91.13 L382.30,90.65 L383.05,92.09 L383.80,89.32 L384.55,88.26 L385.30,90.70 L386.05,87.53 L386.80,85.04 L387.55,82.91 L388.30,80.87 L389.05,78.61 L389.80,74.24 L390.55,69.84 L391.30,65.17 L392.05,58.55 L392.80,50.57 L393.55,47.65 L394.30,38.48 L395.05,30.75 L395.80,29.32 L396.55,26.01 L397.30,30.40 L398.05,31.54 L398.80,40.57 L399.55,49.18 L400.30,52.49 L401.05,59.07 L401.80,65.16 L402.55,70.35 L403.30,74.12 L404.05,79.69 L404.80,81.24 L405.55,84.82 L406.30,85.24 L407.05,87.54 L407.80,90.04 L408.55,90.52 L409.30,92.50 L410.05,90.19 L410.80,91.24 L411.55,90.94 L412.30,90.93 L413.05,92.50 L413.80,90.05 L414.55,89.54 L415.30,90.87 L416.05,90.58 L416.80,89.91 L417.55,90.73 L418.30,89.04 L419.05,91.98 L419.80,90.53 L420.55,89.05 L421.30,90.22 L422.05,89.38 L422.80,89.90 L423.55,89.96 L424.30,89.23 L425.05,89.64 L425.80,89.99 L426.55,89.04 L427.30,88.62 L428.05,90.71 L428.80,90.07 L429.55,88.81 L430.30,87.66 L431.05,90.60 L431.80,87.93 L432.55,89.52 L433.30,86.50 L434.05,86.97 L434.80,84.85 L435.55,85.32 L436.30,85.56 L437.05,86.32 L437.80,86.83 L438.55,86.21 L439.30,85.28 L440.05,85.12 L440.80,82.86 L441.55,82.96 L442.30,84.82 L443.05,80.75 L443.80,82.30 L444.55,86.00 L445.30,81.77 L446.05,81.75 L446.80,80.26 L447.55,76.75 L448.30,83.33 L449.05,79.90 L449.80,78.92 L450.55,75.02 L451.30,78.43 L452.05,77.11 L452.80,77.97 L453.55,78.68 L454.30,73.45 L455.05,72.59 L455.80,74.78 L456.55,71.03 L457.30,71.38 L458.05,72.71 L458.80,68.54 L459.55,65.01 L460.30,65.81 L461.05,65.89 L461.80,62.11 L462.55,61.96 L463.30,64.56 L464.05,67.51 L464.80,64.84 L465.55,59.88 L466.30,58.21 L467.05,58.65 L467.80,56.79 L468.55,54.71 L469.30,53.81 L470.05,57.44 L470.80,50.86 L471.55,54.06 L472.30,46.41 L473.05,51.38 L473.80,44.37 L474.55,47.47 L475.30,47.67 L476.05,43.49 L476.80,45.30 L477.55,42.85 L478.30,40.01 L479.05,45.07 L479.80,48.00 L480.55,44.32 L481.30,44.31 L482.05,45.47 L482.80,49.17 L483.55,49.44 L484.30,49.40 L485.05,53.63 L485.80,56.41 L486.55,54.60 L487.30,57.48 L488.05,63.77 L488.80,62.54 L489.55,65.04 L490.30,65.51 L491.05,71.36 L491.80,75.81 L492.55,75.10 L493.30,76.52 L494.05,80.93 L494.80,79.87 L495.55,83.97 L496.30,85.43 L497.05,85.58 L497.80,86.17 L498.55,89.57 L499.30,88.46 L500.05,88.49 L500.80,89.49 L501.55,88.65 L502.30,91.09 L503.05,90.56 L503.80,91.90 L504.55,90.37 L505.30,92.50 L506.05,91.64 L506.80,92.50 L507.60,92.50" fill="rgba(168,168,168,0.64)"/>
<path d="M379.30,92.50 L380.05,91.72 L380.80,92.29 L381.55,91.13 L382.30,90.65 L383.05,92.09 L383.80,89.32 L384.55,88.26 L385.30,90.70 L386.05,87.53 L386.80,85.04 L387.55,82.91 L388.30,80.87 L389.05,78.61 L389.80,74.24 L390.55,69.84 L391.30,65.17 L392.05,58.55 L392.80,50.57 L393.55,47.65 L394.30,38.48 L395.05,30.75 L395.80,29.32 L396.55,26.01 L397.30,30.40 L398.05,31.54 L398.80,40.57 L399.55,49.18 L400.30,52.49 L401.05,59.07 L401.80,65.16 L402.55,70.35 L403.30,74.12 L404.05,79.69 L404.80,81.24 L405.55,84.82 L406.30,85.24 L407.05,87.54 L407.80,90.04 L408.55,90.52 L409.30,92.50 M409.30,92.50 L410.05,90.19 L410.80,91.24 L411.55,90.94 L412.30,90.93 L413.05,92.50 M413.05,92.50 L413.80,90.05 L414.55,89.54 L415.30,90.87 L416.05,90.58 L416.80,89.91 L417.55,90.73 L418.30,89.04 L419.05,91.98 L419.80,90.53 L420.55,89.05 L421.30,90.22 L422.05,89.38 L422.80,89.90 L423.55,89.96 L424.30,89.23 L425.05,89.64 L425.80,89.99 L426.55,89.04 L427.30,88.62 L428.05,90.71 L428.80,90.07 L429.55,88.81 L430.30,87.66 L431.05,90.60 L431.80,87.93 L432.55,89.52 L433.30,86.50 L434.05,86.97 L434.80,84.85 L435.55,85.32 L436.30,85.56 L437.05,86.32 L437.80,86.83 L438.55,86.21 L439.30,85.28 L440.05,85.12 L440.80,82.86 L441.55,82.96 L442.30,84.82 L443.05,80.75 L443.80,82.30 L444.55,86.00 L445.30,81.77 L446.05,81.75 L446.80,80.26 L447.55,76.75 L448.30,83.33 L449.05,79.90 L449.80,78.92 L450.55,75.02 L451.30,78.43 L452.05,77.11 L452.80,77.97 L453.55,78.68 L454.30,73.45 L455.05,72.59 L455.80,74.78 L456.55,71.03 L457.30,71.38 L458.05,72.71 L458.80,68.54 L459.55,65.01 L460.30,65.81 L461.05,65.89 L461.80,62.11 L462.55,61.96 L463.30,64.56 L464.05,67.51 L464.80,64.84 L465.55,59.88 L466.30,58.21 L467.05,58.65 L467.80,56.79 L468.55,54.71 L469.30,53.81 L470.05,57.44 L470.80,50.86 L471.55,54.06 L472.30,46.41 L473.05,51.38 L473.80,44.37 L474.55,47.47 L475.30,47.67 L476.05,43.49 L476.80,45.30 L477.55,42.85 L478.30,40.01 L479.05,45.07 L479.80,48.00 L480.55,44.32 L481.30,44.31 L482.05,45.47 L482.80,49.17 L483.55,49.44 L484.30,49.40 L485.05,53.63 L485.80,56.41 L486.55,54.60 L487.30,57.48 L488.05,63.77 L488.80,62.54 L489.55,65.04 L490.30,65.51 L491.05,71.36 L491.80,75.81 L492.55,75.10 L493.30,76.52 L494.05,80.93 L494.80,79.87 L495.55,83.97 L496.30,85.43 L497.05,85.58 L497.80,86.17 L498.55,89.57 L499.30,88.46 L500.05,88.49 L500.80,89.49 L501.55,88.65 L502.30,91.09 L503.05,90.56 L503.80,91.90 L504.55,90.37 L505.30,92.50 M505.30,92.50 L506.05,91.64 L506.80,92.50" fill="none" stroke="#151515" stroke-width="1" stroke-linejoin="round"/>
<path d="M379.00,126.20 L379.30,126.19 L380.05,126.20 L380.80,124.88 L381.55,124.99 L382.30,123.70 L383.05,123.83 L383.80,120.56 L384.55,120.78 L385.30,119.79 L386.05,112.98 L386.80,113.07 L387.55,108.89 L388.30,95.85 L389.05,97.66 L389.80,87.00 L390.55,84.36 L391.30,74.34 L392.05,65.69 L392.80,63.43 L393.55,63.43 L394.30,71.84 L395.05,71.58 L395.80,82.20 L396.55,84.89 L397.30,92.10 L398.05,99.05 L398.80,106.38 L399.55,107.53 L400.30,114.61 L401.05,116.70 L401.80,115.09 L402.55,119.51 L403.30,123.45 L404.05,123.91 L404.80,124.91 L405.55,123.31 L406.30,123.95 L407.05,123.60 L407.80,122.85 L408.55,122.60 L409.30,124.85 L410.05,123.80 L410.80,122.64 L411.55,123.32 L412.30,123.85 L413.05,124.10 L413.80,124.90 L414.55,124.04 L415.30,124.33 L416.05,122.11 L416.80,125.49 L417.55,123.19 L418.30,124.73 L419.05,123.82 L419.80,123.46 L420.55,122.06 L421.30,123.72 L422.05,123.67 L422.80,122.70 L423.55,122.34 L424.30,122.39 L425.05,123.43 L425.80,124.53 L426.55,124.42 L427.30,124.17 L428.05,124.67 L428.80,124.48 L429.55,122.04 L430.30,123.61 L431.05,124.29 L431.80,123.22 L432.55,124.58 L433.30,122.66 L434.05,124.53 L434.80,122.71 L435.55,124.06 L436.30,122.92 L437.05,121.92 L437.80,122.76 L438.55,124.38 L439.30,122.61 L440.05,124.82 L440.80,122.18 L441.55,122.57 L442.30,123.32 L443.05,124.23 L443.80,122.42 L444.55,123.08 L445.30,123.02 L446.05,124.90 L446.80,122.57 L447.55,123.71 L448.30,123.20 L449.05,122.66 L449.80,124.24 L450.55,123.43 L451.30,124.07 L452.05,125.71 L452.80,125.13 L453.55,123.62 L454.30,122.77 L455.05,122.94 L455.80,124.05 L456.55,122.29 L457.30,124.84 L458.05,125.46 L458.80,123.12 L459.55,122.96 L460.30,124.71 L461.05,124.17 L461.80,124.29 L462.55,125.53 L463.30,124.23 L464.05,123.12 L464.80,125.70 L465.55,124.65 L466.30,125.75 L467.05,126.14 L467.80,125.44 L468.55,125.28 L469.30,125.29 L470.05,125.76 L470.80,125.71 L471.55,125.75 L472.30,126.00 L473.05,125.30 L473.80,124.77 L474.55,126.20 L475.30,125.48 L476.05,125.82 L476.80,125.65 L477.55,125.36 L478.30,125.52 L479.05,125.83 L479.80,124.73 L480.55,125.40 L481.30,125.77 L482.05,124.70 L482.80,125.57 L483.55,126.20 L484.30,125.64 L485.05,125.88 L485.80,124.44 L486.55,126.20 L487.30,125.59 L488.05,125.82 L488.80,125.40 L489.55,125.81 L490.30,126.07 L491.05,126.20 L491.80,125.14 L492.55,125.55 L493.30,126.20 L494.05,125.50 L494.80,125.39 L495.55,125.03 L496.30,125.95 L497.05,125.56 L497.80,125.90 L498.55,124.70 L499.30,125.66 L500.05,125.95 L500.80,126.20 L501.55,126.10 L502.30,125.42 L503.05,126.20 L503.80,125.59 L504.55,126.12 L505.30,126.20 L506.05,126.20 L506.80,124.37 L507.60,126.20" fill="rgba(168,168,168,0.64)"/>
<path d="M379.30,126.19 L380.05,126.20 M380.05,126.20 L380.80,124.88 L381.55,124.99 L382.30,123.70 L383.05,123.83 L383.80,120.56 L384.55,120.78 L385.30,119.79 L386.05,112.98 L386.80,113.07 L387.55,108.89 L388.30,95.85 L389.05,97.66 L389.80,87.00 L390.55,84.36 L391.30,74.34 L392.05,65.69 L392.80,63.43 L393.55,63.43 L394.30,71.84 L395.05,71.58 L395.80,82.20 L396.55,84.89 L397.30,92.10 L398.05,99.05 L398.80,106.38 L399.55,107.53 L400.30,114.61 L401.05,116.70 L401.80,115.09 L402.55,119.51 L403.30,123.45 L404.05,123.91 L404.80,124.91 L405.55,123.31 L406.30,123.95 L407.05,123.60 L407.80,122.85 L408.55,122.60 L409.30,124.85 L410.05,123.80 L410.80,122.64 L411.55,123.32 L412.30,123.85 L413.05,124.10 L413.80,124.90 L414.55,124.04 L415.30,124.33 L416.05,122.11 L416.80,125.49 L417.55,123.19 L418.30,124.73 L419.05,123.82 L419.80,123.46 L420.55,122.06 L421.30,123.72 L422.05,123.67 L422.80,122.70 L423.55,122.34 L424.30,122.39 L425.05,123.43 L425.80,124.53 L426.55,124.42 L427.30,124.17 L428.05,124.67 L428.80,124.48 L429.55,122.04 L430.30,123.61 L431.05,124.29 L431.80,123.22 L432.55,124.58 L433.30,122.66 L434.05,124.53 L434.80,122.71 L435.55,124.06 L436.30,122.92 L437.05,121.92 L437.80,122.76 L438.55,124.38 L439.30,122.61 L440.05,124.82 L440.80,122.18 L441.55,122.57 L442.30,123.32 L443.05,124.23 L443.80,122.42 L444.55,123.08 L445.30,123.02 L446.05,124.90 L446.80,122.57 L447.55,123.71 L448.30,123.20 L449.05,122.66 L449.80,124.24 L450.55,123.43 L451.30,124.07 L452.05,125.71 L452.80,125.13 L453.55,123.62 L454.30,122.77 L455.05,122.94 L455.80,124.05 L456.55,122.29 L457.30,124.84 L458.05,125.46 L458.80,123.12 L459.55,122.96 L460.30,124.71 L461.05,124.17 L461.80,124.29 L462.55,125.53 L463.30,124.23 L464.05,123.12 L464.80,125.70 L465.55,124.65 L466.30,125.75 L467.05,126.14 L467.80,125.44 L468.55,125.28 L469.30,125.29 L470.05,125.76 L470.80,125.71 L471.55,125.75 L472.30,126.00 L473.05,125.30 L473.80,124.77 L474.55,126.20 M474.55,126.20 L475.30,125.48 L476.05,125.82 L476.80,125.65 L477.55,125.36 L478.30,125.52 L479.05,125.83 L479.80,124.73 L480.55,125.40 L481.30,125.77 L482.05,124.70 L482.80,125.57 L483.55,126.20 M483.55,126.20 L484.30,125.64 L485.05,125.88 L485.80,124.44 L486.55,126.20 M486.55,126.20 L487.30,125.59 L488.05,125.82 L488.80,125.40 L489.55,125.81 L490.30,126.07 L491.05,126.20 M491.05,126.20 L491.80,125.14 L492.55,125.55 L493.30,126.20 M493.30,126.20 L494.05,125.50 L494.80,125.39 L495.55,125.03 L496.30,125.95 L497.05,125.56 L497.80,125.90 L498.55,124.70 L499.30,125.66 L500.05,125.95 L500.80,126.20 M500.80,126.20 L501.55,126.10 L502.30,125.42 L503.05,126.20 M503.05,126.20 L503.80,125.59 L504.55,126.12 L505.30,126.20 M506.05,126.20 L506.80,124.37" fill="none" stroke="#151515" stroke-width="1" stroke-linejoin="round"/>
<path d="M379.00,160.20 L379.30,159.47 L380.05,159.92 L380.80,158.91 L381.55,157.54 L382.30,156.79 L383.05,157.43 L383.80,152.11 L384.55,148.46 L385.30,147.73 L386.05,146.01 L386.80,142.20 L387.55,137.56 L388.30,128.05 L389.05,124.05 L389.80,119.65 L390.55,115.08 L391.30,109.21 L392.05,99.19 L392.80,97.81 L393.55,101.36 L394.30,100.34 L395.05,106.12 L395.80,105.88 L396.55,117.45 L397.30,126.21 L398.05,123.90 L398.80,132.76 L399.55,139.14 L400.30,138.07 L401.05,145.60 L401.80,145.74 L402.55,150.69 L403.30,155.03 L404.05,154.61 L404.80,155.97 L405.55,158.52 L406.30,156.50 L407.05,157.75 L407.80,158.78 L408.55,158.47 L409.30,157.44 L410.05,156.90 L410.80,155.75 L411.55,157.69 L412.30,155.46 L413.05,158.07 L413.80,157.34 L414.55,156.90 L415.30,156.00 L416.05,159.07 L416.80,157.63 L417.55,156.86 L418.30,157.73 L419.05,155.65 L419.80,156.88 L420.55,156.84 L421.30,155.88 L422.05,157.05 L422.80,156.43 L423.55,156.88 L424.30,156.56 L425.05,153.98 L425.80,155.53 L426.55,156.09 L427.30,155.96 L428.05,153.40 L428.80,156.93 L429.55,153.97 L430.30,153.48 L431.05,156.78 L431.80,153.53 L432.55,154.54 L433.30,154.28 L434.05,155.09 L434.80,156.87 L435.55,153.40 L436.30,155.65 L437.05,153.19 L437.80,153.07 L438.55,155.45 L439.30,152.10 L440.05,152.53 L440.80,156.88 L441.55,151.41 L442.30,154.16 L443.05,151.72 L443.80,155.36 L444.55,152.26 L445.30,155.68 L446.05,155.50 L446.80,152.53 L447.55,154.74 L448.30,154.85 L449.05,153.12 L449.80,154.75 L450.55,156.70 L451.30,154.07 L452.05,155.32 L452.80,153.90 L453.55,153.74 L454.30,153.97 L455.05,157.40 L455.80,155.72 L456.55,155.78 L457.30,155.02 L458.05,155.16 L458.80,157.97 L459.55,157.60 L460.30,156.46 L461.05,157.87 L461.80,157.54 L462.55,157.41 L463.30,157.78 L464.05,159.43 L464.80,158.84 L465.55,157.07 L466.30,157.62 L467.05,158.58 L467.80,158.73 L468.55,159.96 L469.30,159.44 L470.05,157.05 L470.80,158.24 L471.55,158.64 L472.30,159.45 L473.05,160.20 L473.80,158.46 L474.55,160.20 L475.30,159.72 L476.05,159.82 L476.80,159.14 L477.55,159.21 L478.30,159.12 L479.05,159.72 L479.80,159.70 L480.55,159.36 L481.30,160.20 L482.05,160.11 L482.80,160.11 L483.55,159.05 L484.30,159.40 L485.05,160.20 L485.80,160.02 L486.55,159.81 L487.30,160.20 L488.05,159.09 L488.80,158.78 L489.55,159.67 L490.30,158.99 L491.05,159.53 L491.80,160.20 L492.55,159.83 L493.30,160.14 L494.05,158.90 L494.80,159.25 L495.55,158.65 L496.30,158.30 L497.05,159.63 L497.80,158.54 L498.55,159.25 L499.30,160.01 L500.05,159.19 L500.80,159.24 L501.55,159.11 L502.30,160.20 L503.05,159.42 L503.80,159.93 L504.55,160.20 L505.30,160.20 L506.05,160.20 L506.80,159.57 L507.60,160.20" fill="rgba(168,168,168,0.64)"/>
<path d="M379.30,159.47 L380.05,159.92 L380.80,158.91 L381.55,157.54 L382.30,156.79 L383.05,157.43 L383.80,152.11 L384.55,148.46 L385.30,147.73 L386.05,146.01 L386.80,142.20 L387.55,137.56 L388.30,128.05 L389.05,124.05 L389.80,119.65 L390.55,115.08 L391.30,109.21 L392.05,99.19 L392.80,97.81 L393.55,101.36 L394.30,100.34 L395.05,106.12 L395.80,105.88 L396.55,117.45 L397.30,126.21 L398.05,123.90 L398.80,132.76 L399.55,139.14 L400.30,138.07 L401.05,145.60 L401.80,145.74 L402.55,150.69 L403.30,155.03 L404.05,154.61 L404.80,155.97 L405.55,158.52 L406.30,156.50 L407.05,157.75 L407.80,158.78 L408.55,158.47 L409.30,157.44 L410.05,156.90 L410.80,155.75 L411.55,157.69 L412.30,155.46 L413.05,158.07 L413.80,157.34 L414.55,156.90 L415.30,156.00 L416.05,159.07 L416.80,157.63 L417.55,156.86 L418.30,157.73 L419.05,155.65 L419.80,156.88 L420.55,156.84 L421.30,155.88 L422.05,157.05 L422.80,156.43 L423.55,156.88 L424.30,156.56 L425.05,153.98 L425.80,155.53 L426.55,156.09 L427.30,155.96 L428.05,153.40 L428.80,156.93 L429.55,153.97 L430.30,153.48 L431.05,156.78 L431.80,153.53 L432.55,154.54 L433.30,154.28 L434.05,155.09 L434.80,156.87 L435.55,153.40 L436.30,155.65 L437.05,153.19 L437.80,153.07 L438.55,155.45 L439.30,152.10 L440.05,152.53 L440.80,156.88 L441.55,151.41 L442.30,154.16 L443.05,151.72 L443.80,155.36 L444.55,152.26 L445.30,155.68 L446.05,155.50 L446.80,152.53 L447.55,154.74 L448.30,154.85 L449.05,153.12 L449.80,154.75 L450.55,156.70 L451.30,154.07 L452.05,155.32 L452.80,153.90 L453.55,153.74 L454.30,153.97 L455.05,157.40 L455.80,155.72 L456.55,155.78 L457.30,155.02 L458.05,155.16 L458.80,157.97 L459.55,157.60 L460.30,156.46 L461.05,157.87 L461.80,157.54 L462.55,157.41 L463.30,157.78 L464.05,159.43 L464.80,158.84 L465.55,157.07 L466.30,157.62 L467.05,158.58 L467.80,158.73 L468.55,159.96 L469.30,159.44 L470.05,157.05 L470.80,158.24 L471.55,158.64 L472.30,159.45 L473.05,160.20 M473.05,160.20 L473.80,158.46 L474.55,160.20 M474.55,160.20 L475.30,159.72 L476.05,159.82 L476.80,159.14 L477.55,159.21 L478.30,159.12 L479.05,159.72 L479.80,159.70 L480.55,159.36 L481.30,160.20 M481.30,160.20 L482.05,160.11 L482.80,160.11 L483.55,159.05 L484.30,159.40 L485.05,160.20 M485.05,160.20 L485.80,160.02 L486.55,159.81 L487.30,160.20 M487.30,160.20 L488.05,159.09 L488.80,158.78 L489.55,159.67 L490.30,158.99 L491.05,159.53 L491.80,160.20 M491.80,160.20 L492.55,159.83 L493.30,160.14 L494.05,158.90 L494.80,159.25 L495.55,158.65 L496.30,158.30 L497.05,159.63 L497.80,158.54 L498.55,159.25 L499.30,160.01 L500.05,159.19 L500.80,159.24 L501.55,159.11 L502.30,160.20 M502.30,160.20 L503.05,159.42 L503.80,159.93 L504.55,160.20 M506.05,160.20 L506.80,159.57" fill="none" stroke="#151515" stroke-width="1" stroke-linejoin="round"/>
<path d="M379.00,194.00 L379.30,193.42 L380.05,193.89 L380.80,193.61 L381.55,194.00 L382.30,194.00 L383.05,193.52 L383.80,193.45 L384.55,193.46 L385.30,192.26 L386.05,191.64 L386.80,190.09 L387.55,189.86 L388.30,185.33 L389.05,181.34 L389.80,178.56 L390.55,168.90 L391.30,159.45 L392.05,155.15 L392.80,148.23 L393.55,141.19 L394.30,131.09 L395.05,132.26 L395.80,136.70 L396.55,134.33 L397.30,137.68 L398.05,144.20 L398.80,147.51 L399.55,149.98 L400.30,154.41 L401.05,164.17 L401.80,164.65 L402.55,166.79 L403.30,171.05 L404.05,174.96 L404.80,175.93 L405.55,174.34 L406.30,181.15 L407.05,188.10 L407.80,185.20 L408.55,188.70 L409.30,188.84 L410.05,190.72 L410.80,192.51 L411.55,191.49 L412.30,191.60 L413.05,192.23 L413.80,190.88 L414.55,192.30 L415.30,191.73 L416.05,192.05 L416.80,193.33 L417.55,191.46 L418.30,192.24 L419.05,190.86 L419.80,191.62 L420.55,191.30 L421.30,192.43 L422.05,190.64 L422.80,192.59 L423.55,193.02 L424.30,192.43 L425.05,191.43 L425.80,190.94 L426.55,192.31 L427.30,192.51 L428.05,192.61 L428.80,192.53 L429.55,191.10 L430.30,191.64 L431.05,192.07 L431.80,192.08 L432.55,192.04 L433.30,192.22 L434.05,192.83 L434.80,191.45 L435.55,192.53 L436.30,193.46 L437.05,192.64 L437.80,192.64 L438.55,191.65 L439.30,191.05 L440.05,191.87 L440.80,191.86 L441.55,191.81 L442.30,192.98 L443.05,193.90 L443.80,191.93 L444.55,192.07 L445.30,191.41 L446.05,192.85 L446.80,192.82 L447.55,191.50 L448.30,192.85 L449.05,191.69 L449.80,193.09 L450.55,193.34 L451.30,192.85 L452.05,193.76 L452.80,192.02 L453.55,192.95 L454.30,192.31 L455.05,192.34 L455.80,191.13 L456.55,192.79 L457.30,192.86 L458.05,192.10 L458.80,193.16 L459.55,192.04 L460.30,191.11 L461.05,194.00 L461.80,192.96 L462.55,191.08 L463.30,193.47 L464.05,192.24 L464.80,193.32 L465.55,191.13 L466.30,193.26 L467.05,193.09 L467.80,192.51 L468.55,191.69 L469.30,191.17 L470.05,192.17 L470.80,191.13 L471.55,192.61 L472.30,192.13 L473.05,192.02 L473.80,192.17 L474.55,193.91 L475.30,192.94 L476.05,193.52 L476.80,193.40 L477.55,192.88 L478.30,191.51 L479.05,192.38 L479.80,191.85 L480.55,193.02 L481.30,192.08 L482.05,192.50 L482.80,193.18 L483.55,192.84 L484.30,192.51 L485.05,192.32 L485.80,192.14 L486.55,192.87 L487.30,192.50 L488.05,192.05 L488.80,191.99 L489.55,192.66 L490.30,192.07 L491.05,192.03 L491.80,192.58 L492.55,193.31 L493.30,193.31 L494.05,193.46 L494.80,192.17 L495.55,192.81 L496.30,192.47 L497.05,193.60 L497.80,194.00 L498.55,191.35 L499.30,192.44 L500.05,191.97 L500.80,193.26 L501.55,191.88 L502.30,191.96 L503.05,191.80 L503.80,192.06 L504.55,192.83 L505.30,191.76 L506.05,193.19 L506.80,191.33 L507.60,194.00" fill="rgba(168,168,168,0.64)"/>
<path d="M379.30,193.42 L380.05,193.89 L380.80,193.61 L381.55,194.00 M382.30,194.00 L383.05,193.52 L383.80,193.45 L384.55,193.46 L385.30,192.26 L386.05,191.64 L386.80,190.09 L387.55,189.86 L388.30,185.33 L389.05,181.34 L389.80,178.56 L390.55,168.90 L391.30,159.45 L392.05,155.15 L392.80,148.23 L393.55,141.19 L394.30,131.09 L395.05,132.26 L395.80,136.70 L396.55,134.33 L397.30,137.68 L398.05,144.20 L398.80,147.51 L399.55,149.98 L400.30,154.41 L401.05,164.17 L401.80,164.65 L402.55,166.79 L403.30,171.05 L404.05,174.96 L404.80,175.93 L405.55,174.34 L406.30,181.15 L407.05,188.10 L407.80,185.20 L408.55,188.70 L409.30,188.84 L410.05,190.72 L410.80,192.51 L411.55,191.49 L412.30,191.60 L413.05,192.23 L413.80,190.88 L414.55,192.30 L415.30,191.73 L416.05,192.05 L416.80,193.33 L417.55,191.46 L418.30,192.24 L419.05,190.86 L419.80,191.62 L420.55,191.30 L421.30,192.43 L422.05,190.64 L422.80,192.59 L423.55,193.02 L424.30,192.43 L425.05,191.43 L425.80,190.94 L426.55,192.31 L427.30,192.51 L428.05,192.61 L428.80,192.53 L429.55,191.10 L430.30,191.64 L431.05,192.07 L431.80,192.08 L432.55,192.04 L433.30,192.22 L434.05,192.83 L434.80,191.45 L435.55,192.53 L436.30,193.46 L437.05,192.64 L437.80,192.64 L438.55,191.65 L439.30,191.05 L440.05,191.87 L440.80,191.86 L441.55,191.81 L442.30,192.98 L443.05,193.90 L443.80,191.93 L444.55,192.07 L445.30,191.41 L446.05,192.85 L446.80,192.82 L447.55,191.50 L448.30,192.85 L449.05,191.69 L449.80,193.09 L450.55,193.34 L451.30,192.85 L452.05,193.76 L452.80,192.02 L453.55,192.95 L454.30,192.31 L455.05,192.34 L455.80,191.13 L456.55,192.79 L457.30,192.86 L458.05,192.10 L458.80,193.16 L459.55,192.04 L460.30,191.11 L461.05,194.00 M461.05,194.00 L461.80,192.96 L462.55,191.08 L463.30,193.47 L464.05,192.24 L464.80,193.32 L465.55,191.13 L466.30,193.26 L467.05,193.09 L467.80,192.51 L468.55,191.69 L469.30,191.17 L470.05,192.17 L470.80,191.13 L471.55,192.61 L472.30,192.13 L473.05,192.02 L473.80,192.17 L474.55,193.91 L475.30,192.94 L476.05,193.52 L476.80,193.40 L477.55,192.88 L478.30,191.51 L479.05,192.38 L479.80,191.85 L480.55,193.02 L481.30,192.08 L482.05,192.50 L482.80,193.18 L483.55,192.84 L484.30,192.51 L485.05,192.32 L485.80,192.14 L486.55,192.87 L487.30,192.50 L488.05,192.05 L488.80,191.99 L489.55,192.66 L490.30,192.07 L491.05,192.03 L491.80,192.58 L492.55,193.31 L493.30,193.31 L494.05,193.46 L494.80,192.17 L495.55,192.81 L496.30,192.47 L497.05,193.60 L497.80,194.00 M497.80,194.00 L498.55,191.35 L499.30,192.44 L500.05,191.97 L500.80,193.26 L501.55,191.88 L502.30,191.96 L503.05,191.80 L503.80,192.06 L504.55,192.83 L505.30,191.76 L506.05,193.19 L506.80,191.33" fill="none" stroke="#151515" stroke-width="1" stroke-linejoin="round"/>
<path d="M379.00,227.50 L379.30,206.61 L380.05,204.98 L380.80,201.61 L381.55,197.27 L382.30,197.73 L383.05,196.93 L383.80,189.04 L384.55,188.25 L385.30,182.34 L386.05,173.20 L386.80,175.57 L387.55,171.53 L388.30,167.61 L389.05,166.02 L389.80,164.35 L390.55,164.79 L391.30,163.06 L392.05,163.06 L392.80,169.41 L393.55,165.08 L394.30,169.97 L395.05,170.86 L395.80,165.85 L396.55,170.80 L397.30,177.44 L398.05,171.06 L398.80,179.31 L399.55,176.72 L400.30,180.69 L401.05,187.00 L401.80,192.71 L402.55,195.48 L403.30,199.60 L404.05,200.16 L404.80,204.72 L405.55,207.49 L406.30,210.09 L407.05,213.97 L407.80,212.41 L408.55,213.72 L409.30,213.91 L410.05,215.25 L410.80,211.38 L411.55,214.81 L412.30,215.60 L413.05,213.68 L413.80,218.31 L414.55,212.32 L415.30,215.36 L416.05,215.98 L416.80,213.60 L417.55,216.28 L418.30,215.41 L419.05,212.69 L419.80,215.00 L420.55,215.32 L421.30,217.63 L422.05,213.40 L422.80,212.71 L423.55,215.41 L424.30,211.53 L425.05,212.76 L425.80,214.17 L426.55,214.87 L427.30,210.81 L428.05,215.94 L428.80,211.66 L429.55,215.63 L430.30,214.05 L431.05,212.58 L431.80,209.85 L432.55,211.20 L433.30,213.97 L434.05,212.97 L434.80,216.11 L435.55,215.73 L436.30,214.80 L437.05,216.08 L437.80,215.37 L438.55,216.48 L439.30,215.45 L440.05,218.67 L440.80,215.83 L441.55,215.56 L442.30,216.58 L443.05,219.24 L443.80,217.82 L444.55,218.86 L445.30,221.85 L446.05,219.62 L446.80,221.84 L447.55,222.02 L448.30,223.40 L449.05,220.99 L449.80,221.89 L450.55,222.51 L451.30,223.48 L452.05,222.41 L452.80,222.53 L453.55,224.61 L454.30,224.64 L455.05,223.35 L455.80,225.63 L456.55,225.02 L457.30,223.16 L458.05,224.89 L458.80,225.34 L459.55,226.16 L460.30,226.14 L461.05,227.34 L461.80,226.22 L462.55,226.45 L463.30,226.57 L464.05,227.23 L464.80,227.32 L465.55,227.50 L466.30,227.50 L467.05,227.39 L467.80,227.49 L468.55,227.50 L469.30,227.27 L470.05,227.50 L470.80,227.50 L471.55,227.37 L472.30,227.50 L473.05,227.40 L473.80,227.50 L474.55,226.93 L475.30,227.47 L476.05,227.50 L476.80,227.45 L477.55,227.50 L478.30,227.50 L479.05,227.21 L479.80,227.50 L480.55,227.50 L481.30,227.50 L482.05,227.29 L482.80,227.50 L483.55,227.36 L484.30,226.96 L485.05,227.50 L485.80,227.25 L486.55,227.07 L487.30,227.50 L488.05,227.50 L488.80,226.95 L489.55,227.50 L490.30,227.50 L491.05,226.78 L491.80,227.46 L492.55,227.50 L493.30,227.37 L494.05,227.39 L494.80,227.32 L495.55,227.50 L496.30,227.32 L497.05,227.06 L497.80,227.21 L498.55,227.50 L499.30,227.47 L500.05,227.50 L500.80,227.50 L501.55,227.48 L502.30,227.34 L503.05,227.50 L503.80,227.25 L504.55,227.37 L505.30,227.17 L506.05,227.36 L506.80,227.02 L507.60,227.50" fill="rgba(168,168,168,0.64)"/>
<path d="M379.30,206.61 L380.05,204.98 L380.80,201.61 L381.55,197.27 L382.30,197.73 L383.05,196.93 L383.80,189.04 L384.55,188.25 L385.30,182.34 L386.05,173.20 L386.80,175.57 L387.55,171.53 L388.30,167.61 L389.05,166.02 L389.80,164.35 L390.55,164.79 L391.30,163.06 L392.05,163.06 L392.80,169.41 L393.55,165.08 L394.30,169.97 L395.05,170.86 L395.80,165.85 L396.55,170.80 L397.30,177.44 L398.05,171.06 L398.80,179.31 L399.55,176.72 L400.30,180.69 L401.05,187.00 L401.80,192.71 L402.55,195.48 L403.30,199.60 L404.05,200.16 L404.80,204.72 L405.55,207.49 L406.30,210.09 L407.05,213.97 L407.80,212.41 L408.55,213.72 L409.30,213.91 L410.05,215.25 L410.80,211.38 L411.55,214.81 L412.30,215.60 L413.05,213.68 L413.80,218.31 L414.55,212.32 L415.30,215.36 L416.05,215.98 L416.80,213.60 L417.55,216.28 L418.30,215.41 L419.05,212.69 L419.80,215.00 L420.55,215.32 L421.30,217.63 L422.05,213.40 L422.80,212.71 L423.55,215.41 L424.30,211.53 L425.05,212.76 L425.80,214.17 L426.55,214.87 L427.30,210.81 L428.05,215.94 L428.80,211.66 L429.55,215.63 L430.30,214.05 L431.05,212.58 L431.80,209.85 L432.55,211.20 L433.30,213.97 L434.05,212.97 L434.80,216.11 L435.55,215.73 L436.30,214.80 L437.05,216.08 L437.80,215.37 L438.55,216.48 L439.30,215.45 L440.05,218.67 L440.80,215.83 L441.55,215.56 L442.30,216.58 L443.05,219.24 L443.80,217.82 L444.55,218.86 L445.30,221.85 L446.05,219.62 L446.80,221.84 L447.55,222.02 L448.30,223.40 L449.05,220.99 L449.80,221.89 L450.55,222.51 L451.30,223.48 L452.05,222.41 L452.80,222.53 L453.55,224.61 L454.30,224.64 L455.05,223.35 L455.80,225.63 L456.55,225.02 L457.30,223.16 L458.05,224.89 L458.80,225.34 L459.55,226.16 L460.30,226.14 L461.05,227.34 L461.80,226.22 L462.55,226.45 L463.30,226.57 L464.05,227.23 L464.80,227.32 L465.55,227.50 M466.30,227.50 L467.05,227.39 L467.80,227.49 L468.55,227.50 M468.55,227.50 L469.30,227.27 L470.05,227.50 M470.80,227.50 L471.55,227.37 L472.30,227.50 M472.30,227.50 L473.05,227.40 L473.80,227.50 M473.80,227.50 L474.55,226.93 L475.30,227.47 L476.05,227.50 M476.05,227.50 L476.80,227.45 L477.55,227.50 M478.30,227.50 L479.05,227.21 L479.80,227.50 M481.30,227.50 L482.05,227.29 L482.80,227.50 M482.80,227.50 L483.55,227.36 L484.30,226.96 L485.05,227.50 M485.05,227.50 L485.80,227.25 L486.55,227.07 L487.30,227.50 M488.05,227.50 L488.80,226.95 L489.55,227.50 M490.30,227.50 L491.05,226.78 L491.80,227.46 L492.55,227.50 M492.55,227.50 L493.30,227.37 L494.05,227.39 L494.80,227.32 L495.55,227.50 M495.55,227.50 L496.30,227.32 L497.05,227.06 L497.80,227.21 L498.55,227.50 M498.55,227.50 L499.30,227.47 L500.05,227.50 M500.80,227.50 L501.55,227.48 L502.30,227.34 L503.05,227.50 M503.05,227.50 L503.80,227.25 L504.55,227.37 L505.30,227.17 L506.05,227.36 L506.80,227.02" fill="none" stroke="#151515" stroke-width="1" stroke-linejoin="round"/>
<line x1="415.2" y1="20.3" x2="415.2" y2="227.5" stroke="#111" stroke-width="1.05" stroke-dasharray="2.8,1.8"/>
<rect x="379.0" y="20.3" width="128.60000000000002" height="207.2" fill="none" stroke="#111" stroke-width="1"/>
<text x="504.8" y="31.1" font-size="7.5" fill="#222" stroke="#222" stroke-width="0.22" text-anchor="end">69.7%</text>
<text x="504.8" y="40.900000000000006" font-size="7.5" fill="#222" stroke="#222" stroke-width="0.22" text-anchor="end" textLength="19.5" lengthAdjust="spacingAndGlyphs">CAR+</text>
<text x="504.8" y="103.3" font-size="7.5" fill="#222" stroke="#222" stroke-width="0.22" text-anchor="end">16.3%</text>
<text x="504.8" y="113.1" font-size="7.5" fill="#222" stroke="#222" stroke-width="0.22" text-anchor="end" textLength="19.5" lengthAdjust="spacingAndGlyphs">CAR+</text>
<text x="504.8" y="137.0" font-size="7.5" fill="#222" stroke="#222" stroke-width="0.22" text-anchor="end">27.3%</text>
<text x="504.8" y="146.8" font-size="7.5" fill="#222" stroke="#222" stroke-width="0.22" text-anchor="end" textLength="19.5" lengthAdjust="spacingAndGlyphs">CAR+</text>
<text x="504.8" y="171.0" font-size="7.5" fill="#222" stroke="#222" stroke-width="0.22" text-anchor="end">8.3%</text>
<text x="504.8" y="180.79999999999998" font-size="7.5" fill="#222" stroke="#222" stroke-width="0.22" text-anchor="end" textLength="19.5" lengthAdjust="spacingAndGlyphs">CAR+</text>
<text x="504.8" y="204.8" font-size="7.5" fill="#222" stroke="#222" stroke-width="0.22" text-anchor="end">29.2%</text>
<text x="504.8" y="214.6" font-size="7.5" fill="#222" stroke="#222" stroke-width="0.22" text-anchor="end" textLength="19.5" lengthAdjust="spacingAndGlyphs">CAR+</text>
<path d="M382.0,227.5 v1.9 M385.0,227.5 v1.9 M388.0,227.5 v1.9 M390.5,227.5 v1.9 M393.5,227.5 v1.9 M396.5,227.5 v1.9 M399.0,227.5 v1.9 M402.0,227.5 v1.9 M405.5,227.5 v1.9 M409.0,227.5 v1.9 M393.5,227.5 v2.8 M437.0,227.5 v2.8 M466.5,227.5 v2.8 M496.0,227.5 v2.8 M445.9,227.5 v1.0 M451.1,227.5 v1.0 M454.8,227.5 v1.0 M457.6,227.5 v1.0 M460.0,227.5 v1.0 M461.9,227.5 v1.0 M463.6,227.5 v1.0 M465.2,227.5 v1.0 M475.4,227.5 v1.0 M480.6,227.5 v1.0 M484.3,227.5 v1.0 M487.1,227.5 v1.0 M489.5,227.5 v1.0 M491.4,227.5 v1.0 M493.1,227.5 v1.0 M494.7,227.5 v1.0" stroke="#111" stroke-width="0.9"/>
<text x="393.5" y="238.6" font-size="6.4" fill="#222" stroke="#222" stroke-width="0.22" text-anchor="middle">0</text>
<text x="430.3" y="238.6" font-size="6.4" fill="#222" stroke="#222" stroke-width="0.2">10<tspan dy="-2.9" font-size="4.6">3</tspan></text>
<text x="460.9" y="238.6" font-size="6.4" fill="#222" stroke="#222" stroke-width="0.2">10<tspan dy="-2.9" font-size="4.6">4</tspan></text>
<text x="489.9" y="238.6" font-size="6.4" fill="#222" stroke="#222" stroke-width="0.2">10<tspan dy="-2.9" font-size="4.6">5</tspan></text>
<text x="414.8" y="251" font-size="8.3" font-weight="bold" fill="#2a2a2a" stroke="#2a2a2a" stroke-width="0.05" textLength="57.2" lengthAdjust="spacingAndGlyphs">BCMA CAR detection</text>
<line x1="21.2" y1="375.3" x2="150.6" y2="375.3" stroke="#b81f35" stroke-width="0.8"/>
<line x1="21.2" y1="409.1" x2="150.6" y2="409.1" stroke="#b81f35" stroke-width="0.8"/>
<line x1="21.2" y1="443.1" x2="150.6" y2="443.1" stroke="#b81f35" stroke-width="0.8"/>
<line x1="21.2" y1="476.9" x2="150.6" y2="476.9" stroke="#b81f35" stroke-width="0.8"/>
<path d="M21.20,375.30 L21.50,375.30 L22.00,375.30 L22.50,375.30 L23.00,375.30 L23.50,375.30 L24.00,375.30 L24.50,375.30 L25.00,375.30 L25.50,375.30 L26.00,375.30 L26.50,375.30 L27.00,375.30 L27.50,375.30 L28.00,375.30 L28.50,375.30 L29.00,375.30 L29.50,375.30 L30.00,375.30 L30.50,375.30 L31.00,375.30 L31.50,375.30 L32.00,375.30 L32.50,375.30 L33.00,375.30 L33.50,375.30 L34.00,375.30 L34.50,375.30 L35.00,375.30 L35.50,375.30 L36.00,375.30 L36.50,375.30 L37.00,375.30 L37.50,375.30 L38.00,375.30 L38.50,375.30 L39.00,375.30 L39.50,375.30 L40.00,375.30 L40.50,375.30 L41.00,375.30 L41.50,375.30 L42.00,375.30 L42.50,375.30 L43.00,375.30 L43.50,375.30 L44.00,375.30 L44.50,375.30 L45.00,375.30 L45.50,375.30 L46.00,375.30 L46.50,375.30 L47.00,375.30 L47.50,375.30 L48.00,375.30 L48.50,375.30 L49.00,375.30 L49.50,375.30 L50.00,375.30 L50.50,375.30 L51.00,375.30 L51.50,375.30 L52.00,375.30 L52.50,375.30 L53.00,375.30 L53.50,375.30 L54.00,375.30 L54.50,375.30 L55.00,375.30 L55.50,375.30 L56.00,375.30 L56.50,375.30 L57.00,375.30 L57.50,375.30 L58.00,375.30 L58.50,375.30 L59.00,375.30 L59.50,375.30 L60.00,375.30 L60.50,375.30 L61.00,375.30 L61.50,375.30 L62.00,375.30 L62.50,375.30 L63.00,375.30 L63.50,375.30 L64.00,375.30 L64.50,375.30 L65.00,375.30 L65.50,375.30 L66.00,375.30 L66.50,375.30 L67.00,375.30 L67.50,375.30 L68.00,375.30 L68.50,375.30 L69.00,375.30 L69.50,375.30 L70.00,375.30 L70.50,375.30 L71.00,375.30 L71.50,375.30 L72.00,375.30 L72.50,375.30 L73.00,375.30 L73.50,375.30 L74.00,375.30 L74.50,375.30 L75.00,375.30 L75.50,375.30 L76.00,375.30 L76.50,375.30 L77.00,375.30 L77.50,375.30 L78.00,375.30 L78.50,375.30 L79.00,375.30 L79.50,375.30 L80.00,375.30 L80.50,375.30 L81.00,375.30 L81.50,375.30 L82.00,375.30 L82.50,375.30 L83.00,375.30 L83.50,375.30 L84.00,375.30 L84.50,375.30 L85.00,375.30 L85.50,375.30 L86.00,375.30 L86.50,375.30 L87.00,375.30 L87.50,375.30 L88.00,375.30 L88.50,375.30 L89.00,375.30 L89.50,375.30 L90.00,375.30 L90.50,375.30 L91.00,375.30 L91.50,375.30 L92.00,375.30 L92.50,375.30 L93.00,375.30 L93.50,375.30 L94.00,375.30 L94.50,375.30 L95.00,375.30 L95.50,375.30 L96.00,375.30 L96.50,375.30 L97.00,375.30 L97.50,375.30 L98.00,375.30 L98.50,375.30 L99.00,375.30 L99.50,375.30 L100.00,375.30 L100.50,375.30 L101.00,375.30 L101.50,375.30 L102.00,375.30 L102.50,375.30 L103.00,375.30 L103.50,375.30 L104.00,375.30 L104.50,375.30 L105.00,375.30 L105.50,374.56 L106.00,374.74 L106.50,373.90 L107.00,372.76 L107.50,372.77 L108.00,371.00 L108.50,368.64 L109.00,365.98 L109.50,364.50 L110.00,362.35 L110.50,359.59 L111.00,355.05 L111.50,352.91 L112.00,345.85 L112.50,340.85 L113.00,336.58 L113.50,329.32 L114.00,323.65 L114.50,317.71 L115.00,310.97 L115.50,312.40 L116.00,314.11 L116.50,319.42 L117.00,320.98 L117.50,326.91 L118.00,331.39 L118.50,332.24 L119.00,336.05 L119.50,339.80 L120.00,340.85 L120.50,343.61 L121.00,346.20 L121.50,349.43 L122.00,351.98 L122.50,355.25 L123.00,358.31 L123.50,360.56 L124.00,362.39 L124.50,364.76 L125.00,365.75 L125.50,367.38 L126.00,368.57 L126.50,369.07 L127.00,370.33 L127.50,370.99 L128.00,372.56 L128.50,373.18 L129.00,373.45 L129.50,374.60 L130.00,375.10 L130.50,374.90 L131.00,375.30 L131.50,375.30 L132.00,375.30 L132.50,375.30 L133.00,375.30 L133.50,375.30 L134.00,375.30 L134.50,375.30 L135.00,375.30 L135.50,375.30 L136.00,375.30 L136.50,375.30 L137.00,375.30 L137.50,375.30 L138.00,375.30 L138.50,375.30 L139.00,375.30 L139.50,375.30 L140.00,375.30 L140.50,375.30 L141.00,375.30 L141.50,375.30 L142.00,375.30 L142.50,375.30 L143.00,375.30 L143.50,375.30 L144.00,375.30 L144.50,375.30 L145.00,375.30 L145.50,375.30 L146.00,375.30 L146.50,375.30 L147.00,375.30 L147.50,375.30 L148.00,375.30 L148.50,375.30 L149.00,375.30 L149.50,375.30 L150.00,375.30 L150.60,375.30" fill="#e4695e" fill-opacity="0.93"/>
<path d="M105.00,375.30 L105.50,374.56 L106.00,374.74 L106.50,373.90 L107.00,372.76 L107.50,372.77 L108.00,371.00 L108.50,368.64 L109.00,365.98 L109.50,364.50 L110.00,362.35 L110.50,359.59 L111.00,355.05 L111.50,352.91 L112.00,345.85 L112.50,340.85 L113.00,336.58 L113.50,329.32 L114.00,323.65 L114.50,317.71 L115.00,310.97 L115.50,312.40 L116.00,314.11 L116.50,319.42 L117.00,320.98 L117.50,326.91 L118.00,331.39 L118.50,332.24 L119.00,336.05 L119.50,339.80 L120.00,340.85 L120.50,343.61 L121.00,346.20 L121.50,349.43 L122.00,351.98 L122.50,355.25 L123.00,358.31 L123.50,360.56 L124.00,362.39 L124.50,364.76 L125.00,365.75 L125.50,367.38 L126.00,368.57 L126.50,369.07 L127.00,370.33 L127.50,370.99 L128.00,372.56 L128.50,373.18 L129.00,373.45 L129.50,374.60 L130.00,375.10 L130.50,374.90 L131.00,375.30" fill="none" stroke="#9a1424" stroke-width="0.9" stroke-linejoin="round"/>
<path d="M21.20,409.10 L21.50,409.10 L22.00,409.10 L22.50,409.10 L23.00,409.10 L23.50,409.10 L24.00,409.10 L24.50,409.10 L25.00,409.10 L25.50,409.10 L26.00,409.10 L26.50,409.10 L27.00,409.10 L27.50,409.10 L28.00,409.10 L28.50,409.10 L29.00,409.10 L29.50,409.10 L30.00,409.10 L30.50,409.10 L31.00,409.10 L31.50,409.10 L32.00,409.10 L32.50,409.10 L33.00,409.10 L33.50,409.10 L34.00,409.10 L34.50,409.10 L35.00,409.10 L35.50,409.10 L36.00,409.10 L36.50,409.10 L37.00,409.10 L37.50,409.10 L38.00,409.10 L38.50,409.10 L39.00,409.10 L39.50,409.10 L40.00,409.10 L40.50,409.10 L41.00,409.10 L41.50,409.10 L42.00,409.10 L42.50,409.10 L43.00,409.10 L43.50,409.10 L44.00,409.10 L44.50,409.10 L45.00,409.10 L45.50,409.10 L46.00,409.10 L46.50,409.10 L47.00,409.10 L47.50,409.10 L48.00,409.10 L48.50,409.10 L49.00,409.10 L49.50,409.10 L50.00,409.10 L50.50,409.10 L51.00,409.10 L51.50,409.10 L52.00,409.10 L52.50,409.10 L53.00,409.10 L53.50,409.10 L54.00,409.10 L54.50,409.10 L55.00,409.10 L55.50,409.10 L56.00,409.10 L56.50,409.10 L57.00,409.10 L57.50,409.10 L58.00,409.10 L58.50,409.10 L59.00,409.10 L59.50,409.10 L60.00,409.10 L60.50,409.10 L61.00,409.10 L61.50,409.10 L62.00,408.28 L62.50,409.10 L63.00,408.37 L63.50,408.12 L64.00,408.55 L64.50,408.02 L65.00,408.00 L65.50,408.08 L66.00,406.74 L66.50,406.75 L67.00,406.95 L67.50,405.77 L68.00,404.05 L68.50,401.68 L69.00,400.00 L69.50,400.24 L70.00,399.27 L70.50,397.55 L71.00,396.35 L71.50,392.83 L72.00,390.00 L72.50,388.07 L73.00,384.37 L73.50,381.21 L74.00,379.67 L74.50,375.71 L75.00,371.78 L75.50,368.33 L76.00,366.60 L76.50,362.88 L77.00,357.24 L77.50,356.60 L78.00,353.72 L78.50,351.53 L79.00,349.65 L79.50,346.79 L80.00,345.09 L80.50,343.77 L81.00,342.54 L81.50,344.46 L82.00,345.39 L82.50,344.76 L83.00,347.93 L83.50,348.55 L84.00,354.21 L84.50,353.36 L85.00,355.86 L85.50,360.30 L86.00,361.09 L86.50,364.84 L87.00,369.58 L87.50,371.58 L88.00,375.24 L88.50,378.60 L89.00,381.02 L89.50,385.29 L90.00,387.82 L90.50,390.66 L91.00,393.09 L91.50,394.79 L92.00,396.19 L92.50,398.65 L93.00,400.10 L93.50,401.49 L94.00,402.59 L94.50,404.25 L95.00,404.54 L95.50,406.41 L96.00,406.00 L96.50,406.49 L97.00,407.30 L97.50,407.73 L98.00,407.73 L98.50,408.32 L99.00,408.21 L99.50,408.34 L100.00,409.10 L100.50,408.41 L101.00,409.10 L101.50,409.10 L102.00,409.10 L102.50,409.10 L103.00,409.10 L103.50,409.10 L104.00,409.10 L104.50,409.10 L105.00,409.10 L105.50,409.10 L106.00,409.10 L106.50,409.10 L107.00,409.10 L107.50,409.10 L108.00,409.10 L108.50,409.10 L109.00,409.10 L109.50,409.10 L110.00,409.10 L110.50,409.10 L111.00,409.10 L111.50,409.10 L112.00,409.10 L112.50,409.10 L113.00,409.10 L113.50,409.10 L114.00,409.10 L114.50,409.10 L115.00,409.10 L115.50,409.10 L116.00,409.10 L116.50,409.10 L117.00,409.10 L117.50,409.10 L118.00,409.10 L118.50,409.10 L119.00,409.10 L119.50,409.10 L120.00,409.10 L120.50,409.10 L121.00,409.10 L121.50,409.10 L122.00,409.10 L122.50,409.10 L123.00,409.10 L123.50,409.10 L124.00,409.10 L124.50,409.10 L125.00,409.10 L125.50,409.10 L126.00,409.10 L126.50,409.10 L127.00,409.10 L127.50,409.10 L128.00,409.10 L128.50,409.10 L129.00,409.10 L129.50,409.10 L130.00,409.10 L130.50,409.10 L131.00,409.10 L131.50,409.10 L132.00,409.10 L132.50,409.10 L133.00,409.10 L133.50,409.10 L134.00,409.10 L134.50,409.10 L135.00,409.10 L135.50,409.10 L136.00,409.10 L136.50,409.10 L137.00,409.10 L137.50,409.10 L138.00,409.10 L138.50,409.10 L139.00,409.10 L139.50,409.10 L140.00,409.10 L140.50,409.10 L141.00,409.10 L141.50,409.10 L142.00,409.10 L142.50,409.10 L143.00,409.10 L143.50,409.10 L144.00,409.10 L144.50,409.10 L145.00,409.10 L145.50,409.10 L146.00,409.10 L146.50,409.10 L147.00,409.10 L147.50,409.10 L148.00,409.10 L148.50,409.10 L149.00,409.10 L149.50,409.10 L150.00,409.10 L150.60,409.10" fill="#e4695e" fill-opacity="0.93"/>
<path d="M61.50,409.10 L62.00,408.28 L62.50,409.10 M62.50,409.10 L63.00,408.37 L63.50,408.12 L64.00,408.55 L64.50,408.02 L65.00,408.00 L65.50,408.08 L66.00,406.74 L66.50,406.75 L67.00,406.95 L67.50,405.77 L68.00,404.05 L68.50,401.68 L69.00,400.00 L69.50,400.24 L70.00,399.27 L70.50,397.55 L71.00,396.35 L71.50,392.83 L72.00,390.00 L72.50,388.07 L73.00,384.37 L73.50,381.21 L74.00,379.67 L74.50,375.71 L75.00,371.78 L75.50,368.33 L76.00,366.60 L76.50,362.88 L77.00,357.24 L77.50,356.60 L78.00,353.72 L78.50,351.53 L79.00,349.65 L79.50,346.79 L80.00,345.09 L80.50,343.77 L81.00,342.54 L81.50,344.46 L82.00,345.39 L82.50,344.76 L83.00,347.93 L83.50,348.55 L84.00,354.21 L84.50,353.36 L85.00,355.86 L85.50,360.30 L86.00,361.09 L86.50,364.84 L87.00,369.58 L87.50,371.58 L88.00,375.24 L88.50,378.60 L89.00,381.02 L89.50,385.29 L90.00,387.82 L90.50,390.66 L91.00,393.09 L91.50,394.79 L92.00,396.19 L92.50,398.65 L93.00,400.10 L93.50,401.49 L94.00,402.59 L94.50,404.25 L95.00,404.54 L95.50,406.41 L96.00,406.00 L96.50,406.49 L97.00,407.30 L97.50,407.73 L98.00,407.73 L98.50,408.32 L99.00,408.21 L99.50,408.34 L100.00,409.10 M100.00,409.10 L100.50,408.41 L101.00,409.10" fill="none" stroke="#9a1424" stroke-width="0.9" stroke-linejoin="round"/>
<path d="M21.20,443.10 L21.50,443.10 L22.00,443.10 L22.50,443.10 L23.00,443.10 L23.50,443.10 L24.00,443.10 L24.50,443.10 L25.00,443.10 L25.50,443.10 L26.00,443.10 L26.50,443.10 L27.00,443.10 L27.50,443.10 L28.00,443.10 L28.50,443.10 L29.00,443.10 L29.50,443.10 L30.00,443.10 L30.50,443.10 L31.00,443.10 L31.50,443.10 L32.00,443.10 L32.50,443.10 L33.00,443.10 L33.50,443.10 L34.00,443.10 L34.50,443.10 L35.00,443.10 L35.50,443.10 L36.00,443.10 L36.50,443.10 L37.00,443.10 L37.50,443.10 L38.00,443.10 L38.50,443.10 L39.00,443.10 L39.50,443.10 L40.00,443.10 L40.50,443.10 L41.00,443.10 L41.50,443.10 L42.00,443.10 L42.50,443.10 L43.00,443.10 L43.50,443.10 L44.00,443.10 L44.50,443.10 L45.00,443.10 L45.50,443.10 L46.00,443.10 L46.50,443.10 L47.00,443.10 L47.50,443.10 L48.00,443.10 L48.50,443.10 L49.00,443.10 L49.50,443.10 L50.00,443.10 L50.50,443.10 L51.00,443.10 L51.50,443.10 L52.00,443.10 L52.50,443.10 L53.00,443.10 L53.50,443.10 L54.00,443.10 L54.50,443.10 L55.00,443.10 L55.50,443.10 L56.00,443.10 L56.50,443.10 L57.00,443.10 L57.50,443.10 L58.00,443.10 L58.50,443.10 L59.00,443.10 L59.50,443.10 L60.00,443.10 L60.50,443.10 L61.00,443.10 L61.50,443.10 L62.00,443.10 L62.50,443.10 L63.00,443.10 L63.50,443.10 L64.00,443.10 L64.50,443.10 L65.00,443.10 L65.50,443.10 L66.00,443.10 L66.50,443.10 L67.00,443.10 L67.50,443.10 L68.00,443.10 L68.50,443.10 L69.00,443.10 L69.50,443.10 L70.00,443.10 L70.50,443.10 L71.00,443.10 L71.50,443.10 L72.00,443.10 L72.50,443.10 L73.00,443.10 L73.50,443.10 L74.00,443.10 L74.50,443.10 L75.00,443.10 L75.50,443.10 L76.00,443.10 L76.50,443.10 L77.00,443.10 L77.50,443.10 L78.00,443.10 L78.50,443.10 L79.00,443.10 L79.50,443.10 L80.00,443.10 L80.50,443.10 L81.00,443.10 L81.50,443.10 L82.00,443.10 L82.50,443.10 L83.00,443.10 L83.50,443.10 L84.00,443.10 L84.50,443.10 L85.00,443.10 L85.50,443.10 L86.00,443.10 L86.50,443.10 L87.00,443.10 L87.50,443.10 L88.00,443.10 L88.50,443.10 L89.00,443.10 L89.50,443.10 L90.00,443.10 L90.50,443.10 L91.00,443.10 L91.50,443.10 L92.00,443.10 L92.50,443.10 L93.00,443.10 L93.50,443.10 L94.00,443.10 L94.50,443.10 L95.00,443.10 L95.50,442.58 L96.00,442.20 L96.50,440.74 L97.00,441.07 L97.50,439.89 L98.00,438.98 L98.50,437.76 L99.00,438.30 L99.50,437.72 L100.00,436.75 L100.50,436.72 L101.00,437.21 L101.50,435.44 L102.00,435.11 L102.50,434.77 L103.00,434.87 L103.50,433.71 L104.00,433.62 L104.50,432.95 L105.00,430.86 L105.50,430.41 L106.00,428.71 L106.50,427.05 L107.00,424.93 L107.50,420.54 L108.00,417.89 L108.50,413.87 L109.00,409.69 L109.50,406.13 L110.00,399.94 L110.50,398.61 L111.00,391.94 L111.50,387.03 L112.00,379.97 L112.50,379.07 L113.00,379.88 L113.50,384.22 L114.00,386.81 L114.50,390.72 L115.00,394.03 L115.50,397.43 L116.00,397.85 L116.50,403.14 L117.00,406.61 L117.50,407.39 L118.00,409.42 L118.50,412.34 L119.00,414.87 L119.50,417.66 L120.00,420.33 L120.50,421.95 L121.00,425.27 L121.50,427.20 L122.00,427.82 L122.50,429.34 L123.00,431.91 L123.50,433.19 L124.00,433.08 L124.50,432.97 L125.00,434.51 L125.50,436.02 L126.00,436.71 L126.50,438.08 L127.00,439.35 L127.50,439.22 L128.00,440.26 L128.50,439.89 L129.00,441.09 L129.50,441.71 L130.00,442.48 L130.50,442.81 L131.00,442.54 L131.50,443.10 L132.00,443.10 L132.50,443.10 L133.00,443.10 L133.50,443.10 L134.00,443.10 L134.50,443.10 L135.00,443.10 L135.50,443.10 L136.00,443.10 L136.50,443.10 L137.00,443.10 L137.50,443.10 L138.00,443.10 L138.50,443.10 L139.00,443.10 L139.50,443.10 L140.00,443.10 L140.50,443.10 L141.00,443.10 L141.50,443.10 L142.00,443.10 L142.50,443.10 L143.00,443.10 L143.50,443.10 L144.00,443.10 L144.50,443.10 L145.00,443.10 L145.50,443.10 L146.00,443.10 L146.50,443.10 L147.00,443.10 L147.50,443.10 L148.00,443.10 L148.50,443.10 L149.00,443.10 L149.50,443.10 L150.00,443.10 L150.60,443.10" fill="#e4695e" fill-opacity="0.93"/>
<path d="M95.00,443.10 L95.50,442.58 L96.00,442.20 L96.50,440.74 L97.00,441.07 L97.50,439.89 L98.00,438.98 L98.50,437.76 L99.00,438.30 L99.50,437.72 L100.00,436.75 L100.50,436.72 L101.00,437.21 L101.50,435.44 L102.00,435.11 L102.50,434.77 L103.00,434.87 L103.50,433.71 L104.00,433.62 L104.50,432.95 L105.00,430.86 L105.50,430.41 L106.00,428.71 L106.50,427.05 L107.00,424.93 L107.50,420.54 L108.00,417.89 L108.50,413.87 L109.00,409.69 L109.50,406.13 L110.00,399.94 L110.50,398.61 L111.00,391.94 L111.50,387.03 L112.00,379.97 L112.50,379.07 L113.00,379.88 L113.50,384.22 L114.00,386.81 L114.50,390.72 L115.00,394.03 L115.50,397.43 L116.00,397.85 L116.50,403.14 L117.00,406.61 L117.50,407.39 L118.00,409.42 L118.50,412.34 L119.00,414.87 L119.50,417.66 L120.00,420.33 L120.50,421.95 L121.00,425.27 L121.50,427.20 L122.00,427.82 L122.50,429.34 L123.00,431.91 L123.50,433.19 L124.00,433.08 L124.50,432.97 L125.00,434.51 L125.50,436.02 L126.00,436.71 L126.50,438.08 L127.00,439.35 L127.50,439.22 L128.00,440.26 L128.50,439.89 L129.00,441.09 L129.50,441.71 L130.00,442.48 L130.50,442.81 L131.00,442.54 L131.50,443.10" fill="none" stroke="#9a1424" stroke-width="0.9" stroke-linejoin="round"/>
<path d="M21.20,476.90 L21.50,476.90 L22.00,476.90 L22.50,476.90 L23.00,476.90 L23.50,476.90 L24.00,476.90 L24.50,476.90 L25.00,476.90 L25.50,476.90 L26.00,476.90 L26.50,476.90 L27.00,476.42 L27.50,475.88 L28.00,476.29 L28.50,476.64 L29.00,476.37 L29.50,475.49 L30.00,475.36 L30.50,475.02 L31.00,475.16 L31.50,474.26 L32.00,475.51 L32.50,474.41 L33.00,474.01 L33.50,475.55 L34.00,473.52 L34.50,474.43 L35.00,473.28 L35.50,474.24 L36.00,473.99 L36.50,473.42 L37.00,473.36 L37.50,473.20 L38.00,474.01 L38.50,473.50 L39.00,474.56 L39.50,474.99 L40.00,474.80 L40.50,474.97 L41.00,475.71 L41.50,475.37 L42.00,476.03 L42.50,476.33 L43.00,476.80 L43.50,476.29 L44.00,476.59 L44.50,476.90 L45.00,476.72 L45.50,476.90 L46.00,476.90 L46.50,476.90 L47.00,476.90 L47.50,476.90 L48.00,476.90 L48.50,476.90 L49.00,476.90 L49.50,476.90 L50.00,476.90 L50.50,476.90 L51.00,476.90 L51.50,476.90 L52.00,476.90 L52.50,476.90 L53.00,476.90 L53.50,476.90 L54.00,476.90 L54.50,476.90 L55.00,476.90 L55.50,476.90 L56.00,476.90 L56.50,476.90 L57.00,476.90 L57.50,476.90 L58.00,476.90 L58.50,476.90 L59.00,476.90 L59.50,476.90 L60.00,476.90 L60.50,476.90 L61.00,476.90 L61.50,476.90 L62.00,476.90 L62.50,476.90 L63.00,476.90 L63.50,476.90 L64.00,476.90 L64.50,476.90 L65.00,476.90 L65.50,476.90 L66.00,476.90 L66.50,476.90 L67.00,476.90 L67.50,476.90 L68.00,476.90 L68.50,476.90 L69.00,476.90 L69.50,476.90 L70.00,476.90 L70.50,476.90 L71.00,476.90 L71.50,476.90 L72.00,476.90 L72.50,476.90 L73.00,476.90 L73.50,476.90 L74.00,476.90 L74.50,476.90 L75.00,476.90 L75.50,476.90 L76.00,476.90 L76.50,476.90 L77.00,476.90 L77.50,476.90 L78.00,476.55 L78.50,476.90 L79.00,476.20 L79.50,476.20 L80.00,475.65 L80.50,475.05 L81.00,474.94 L81.50,474.74 L82.00,474.75 L82.50,474.56 L83.00,474.06 L83.50,473.37 L84.00,472.90 L84.50,471.64 L85.00,471.57 L85.50,469.93 L86.00,469.09 L86.50,467.39 L87.00,464.86 L87.50,462.89 L88.00,458.45 L88.50,453.35 L89.00,449.75 L89.50,445.13 L90.00,440.04 L90.50,437.28 L91.00,427.42 L91.50,424.21 L92.00,421.34 L92.50,417.79 L93.00,414.86 L93.50,413.81 L94.00,413.64 L94.50,410.90 L95.00,412.77 L95.50,412.74 L96.00,413.88 L96.50,418.57 L97.00,418.69 L97.50,423.17 L98.00,427.34 L98.50,430.67 L99.00,431.61 L99.50,433.73 L100.00,437.86 L100.50,445.14 L101.00,448.39 L101.50,455.33 L102.00,457.25 L102.50,460.47 L103.00,461.19 L103.50,462.57 L104.00,464.40 L104.50,464.52 L105.00,466.86 L105.50,466.80 L106.00,467.19 L106.50,468.89 L107.00,468.68 L107.50,470.31 L108.00,470.82 L108.50,471.11 L109.00,470.77 L109.50,471.04 L110.00,471.29 L110.50,471.75 L111.00,471.33 L111.50,471.47 L112.00,473.13 L112.50,472.86 L113.00,473.88 L113.50,473.88 L114.00,474.65 L114.50,475.09 L115.00,474.45 L115.50,475.05 L116.00,475.43 L116.50,475.51 L117.00,476.07 L117.50,476.14 L118.00,476.01 L118.50,476.04 L119.00,476.40 L119.50,476.90 L120.00,476.60 L120.50,476.90 L121.00,476.90 L121.50,476.90 L122.00,476.90 L122.50,476.90 L123.00,476.90 L123.50,476.90 L124.00,476.90 L124.50,476.90 L125.00,476.90 L125.50,476.90 L126.00,476.90 L126.50,476.90 L127.00,476.90 L127.50,476.90 L128.00,476.90 L128.50,476.90 L129.00,476.90 L129.50,476.90 L130.00,476.90 L130.50,476.90 L131.00,476.90 L131.50,476.90 L132.00,476.90 L132.50,476.90 L133.00,476.90 L133.50,476.90 L134.00,476.90 L134.50,476.90 L135.00,476.90 L135.50,476.90 L136.00,476.90 L136.50,476.90 L137.00,476.90 L137.50,476.90 L138.00,476.90 L138.50,476.90 L139.00,476.90 L139.50,476.90 L140.00,476.90 L140.50,476.90 L141.00,476.90 L141.50,476.90 L142.00,476.90 L142.50,476.90 L143.00,476.90 L143.50,476.90 L144.00,476.90 L144.50,476.90 L145.00,476.90 L145.50,476.90 L146.00,476.90 L146.50,476.90 L147.00,476.90 L147.50,476.90 L148.00,476.90 L148.50,476.90 L149.00,476.90 L149.50,476.90 L150.00,476.90 L150.60,476.90" fill="#e4695e" fill-opacity="0.93"/>
<path d="M26.50,476.90 L27.00,476.42 L27.50,475.88 L28.00,476.29 L28.50,476.64 L29.00,476.37 L29.50,475.49 L30.00,475.36 L30.50,475.02 L31.00,475.16 L31.50,474.26 L32.00,475.51 L32.50,474.41 L33.00,474.01 L33.50,475.55 L34.00,473.52 L34.50,474.43 L35.00,473.28 L35.50,474.24 L36.00,473.99 L36.50,473.42 L37.00,473.36 L37.50,473.20 L38.00,474.01 L38.50,473.50 L39.00,474.56 L39.50,474.99 L40.00,474.80 L40.50,474.97 L41.00,475.71 L41.50,475.37 L42.00,476.03 L42.50,476.33 L43.00,476.90 M43.00,476.90 L43.50,476.29 L44.00,476.59 L44.50,476.90 M44.50,476.90 L45.00,476.72 L45.50,476.90 M77.50,476.90 L78.00,476.55 L78.50,476.90 M78.50,476.90 L79.00,476.20 L79.50,476.20 L80.00,475.65 L80.50,475.05 L81.00,474.94 L81.50,474.74 L82.00,474.75 L82.50,474.56 L83.00,474.06 L83.50,473.37 L84.00,472.90 L84.50,471.64 L85.00,471.57 L85.50,469.93 L86.00,469.09 L86.50,467.39 L87.00,464.86 L87.50,462.89 L88.00,458.45 L88.50,453.35 L89.00,449.75 L89.50,445.13 L90.00,440.04 L90.50,437.28 L91.00,427.42 L91.50,424.21 L92.00,421.34 L92.50,417.79 L93.00,414.86 L93.50,413.81 L94.00,413.64 L94.50,410.90 L95.00,412.77 L95.50,412.74 L96.00,413.88 L96.50,418.57 L97.00,418.69 L97.50,423.17 L98.00,427.34 L98.50,430.67 L99.00,431.61 L99.50,433.73 L100.00,437.86 L100.50,445.14 L101.00,448.39 L101.50,455.33 L102.00,457.25 L102.50,460.47 L103.00,461.19 L103.50,462.57 L104.00,464.40 L104.50,464.52 L105.00,466.86 L105.50,466.80 L106.00,467.19 L106.50,468.89 L107.00,468.68 L107.50,470.31 L108.00,470.82 L108.50,471.11 L109.00,470.77 L109.50,471.04 L110.00,471.29 L110.50,471.75 L111.00,471.33 L111.50,471.47 L112.00,473.13 L112.50,472.86 L113.00,473.88 L113.50,473.88 L114.00,474.65 L114.50,475.09 L115.00,474.45 L115.50,475.05 L116.00,475.43 L116.50,475.51 L117.00,476.07 L117.50,476.14 L118.00,476.01 L118.50,476.04 L119.00,476.40 L119.50,476.90 M119.50,476.90 L120.00,476.60 L120.50,476.90" fill="none" stroke="#9a1424" stroke-width="0.9" stroke-linejoin="round"/>
<path d="M21.20,510.00 L21.50,510.00 L22.00,510.00 L22.50,510.00 L23.00,510.00 L23.50,510.00 L24.00,510.00 L24.50,510.00 L25.00,510.00 L25.50,510.00 L26.00,510.00 L26.50,510.00 L27.00,510.00 L27.50,510.00 L28.00,510.00 L28.50,510.00 L29.00,510.00 L29.50,510.00 L30.00,510.00 L30.50,510.00 L31.00,510.00 L31.50,510.00 L32.00,510.00 L32.50,510.00 L33.00,510.00 L33.50,510.00 L34.00,510.00 L34.50,510.00 L35.00,510.00 L35.50,510.00 L36.00,510.00 L36.50,510.00 L37.00,510.00 L37.50,510.00 L38.00,510.00 L38.50,510.00 L39.00,510.00 L39.50,510.00 L40.00,510.00 L40.50,510.00 L41.00,510.00 L41.50,510.00 L42.00,510.00 L42.50,510.00 L43.00,510.00 L43.50,510.00 L44.00,510.00 L44.50,510.00 L45.00,510.00 L45.50,510.00 L46.00,510.00 L46.50,510.00 L47.00,510.00 L47.50,510.00 L48.00,510.00 L48.50,510.00 L49.00,510.00 L49.50,510.00 L50.00,510.00 L50.50,510.00 L51.00,510.00 L51.50,510.00 L52.00,510.00 L52.50,510.00 L53.00,510.00 L53.50,510.00 L54.00,510.00 L54.50,510.00 L55.00,510.00 L55.50,510.00 L56.00,510.00 L56.50,510.00 L57.00,510.00 L57.50,510.00 L58.00,510.00 L58.50,510.00 L59.00,510.00 L59.50,510.00 L60.00,510.00 L60.50,510.00 L61.00,510.00 L61.50,510.00 L62.00,510.00 L62.50,510.00 L63.00,510.00 L63.50,510.00 L64.00,510.00 L64.50,510.00 L65.00,510.00 L65.50,510.00 L66.00,510.00 L66.50,510.00 L67.00,510.00 L67.50,510.00 L68.00,510.00 L68.50,510.00 L69.00,510.00 L69.50,510.00 L70.00,510.00 L70.50,510.00 L71.00,510.00 L71.50,510.00 L72.00,510.00 L72.50,510.00 L73.00,510.00 L73.50,510.00 L74.00,510.00 L74.50,510.00 L75.00,510.00 L75.50,510.00 L76.00,510.00 L76.50,510.00 L77.00,510.00 L77.50,510.00 L78.00,510.00 L78.50,510.00 L79.00,510.00 L79.50,510.00 L80.00,510.00 L80.50,510.00 L81.00,510.00 L81.50,510.00 L82.00,510.00 L82.50,510.00 L83.00,510.00 L83.50,510.00 L84.00,510.00 L84.50,510.00 L85.00,510.00 L85.50,510.00 L86.00,510.00 L86.50,510.00 L87.00,510.00 L87.50,510.00 L88.00,510.00 L88.50,510.00 L89.00,510.00 L89.50,510.00 L90.00,510.00 L90.50,510.00 L91.00,510.00 L91.50,510.00 L92.00,510.00 L92.50,510.00 L93.00,510.00 L93.50,510.00 L94.00,510.00 L94.50,510.00 L95.00,510.00 L95.50,510.00 L96.00,510.00 L96.50,510.00 L97.00,510.00 L97.50,510.00 L98.00,510.00 L98.50,510.00 L99.00,510.00 L99.50,510.00 L100.00,510.00 L100.50,509.66 L101.00,508.89 L101.50,508.43 L102.00,506.42 L102.50,505.01 L103.00,503.47 L103.50,502.97 L104.00,500.70 L104.50,497.76 L105.00,496.27 L105.50,494.15 L106.00,490.53 L106.50,487.21 L107.00,485.70 L107.50,481.57 L108.00,476.72 L108.50,473.69 L109.00,471.81 L109.50,465.64 L110.00,465.43 L110.50,462.08 L111.00,457.11 L111.50,452.02 L112.00,449.41 L112.50,448.72 L113.00,451.95 L113.50,452.87 L114.00,454.73 L114.50,453.44 L115.00,452.87 L115.50,449.48 L116.00,443.56 L116.50,447.97 L117.00,449.34 L117.50,451.63 L118.00,454.10 L118.50,456.40 L119.00,460.05 L119.50,462.20 L120.00,468.84 L120.50,474.43 L121.00,480.28 L121.50,485.07 L122.00,489.48 L122.50,491.08 L123.00,493.10 L123.50,495.68 L124.00,496.95 L124.50,497.99 L125.00,497.31 L125.50,500.45 L126.00,501.45 L126.50,500.51 L127.00,503.04 L127.50,503.02 L128.00,505.11 L128.50,506.38 L129.00,506.35 L129.50,506.72 L130.00,508.81 L130.50,508.05 L131.00,508.92 L131.50,508.86 L132.00,509.20 L132.50,510.00 L133.00,510.00 L133.50,510.00 L134.00,510.00 L134.50,510.00 L135.00,510.00 L135.50,510.00 L136.00,510.00 L136.50,510.00 L137.00,510.00 L137.50,510.00 L138.00,510.00 L138.50,510.00 L139.00,510.00 L139.50,510.00 L140.00,510.00 L140.50,510.00 L141.00,510.00 L141.50,510.00 L142.00,510.00 L142.50,510.00 L143.00,510.00 L143.50,510.00 L144.00,510.00 L144.50,510.00 L145.00,510.00 L145.50,510.00 L146.00,510.00 L146.50,510.00 L147.00,510.00 L147.50,510.00 L148.00,510.00 L148.50,510.00 L149.00,510.00 L149.50,510.00 L150.00,510.00 L150.60,510.00" fill="#e4695e" fill-opacity="0.93"/>
<path d="M100.00,510.00 L100.50,509.66 L101.00,508.89 L101.50,508.43 L102.00,506.42 L102.50,505.01 L103.00,503.47 L103.50,502.97 L104.00,500.70 L104.50,497.76 L105.00,496.27 L105.50,494.15 L106.00,490.53 L106.50,487.21 L107.00,485.70 L107.50,481.57 L108.00,476.72 L108.50,473.69 L109.00,471.81 L109.50,465.64 L110.00,465.43 L110.50,462.08 L111.00,457.11 L111.50,452.02 L112.00,449.41 L112.50,448.72 L113.00,451.95 L113.50,452.87 L114.00,454.73 L114.50,453.44 L115.00,452.87 L115.50,449.48 L116.00,443.56 L116.50,447.97 L117.00,449.34 L117.50,451.63 L118.00,454.10 L118.50,456.40 L119.00,460.05 L119.50,462.20 L120.00,468.84 L120.50,474.43 L121.00,480.28 L121.50,485.07 L122.00,489.48 L122.50,491.08 L123.00,493.10 L123.50,495.68 L124.00,496.95 L124.50,497.99 L125.00,497.31 L125.50,500.45 L126.00,501.45 L126.50,500.51 L127.00,503.04 L127.50,503.02 L128.00,505.11 L128.50,506.38 L129.00,506.35 L129.50,506.72 L130.00,508.81 L130.50,508.05 L131.00,508.92 L131.50,508.86 L132.00,509.20 L132.50,510.00" fill="none" stroke="#9a1424" stroke-width="0.9" stroke-linejoin="round"/>
<line x1="57.6" y1="302.3" x2="57.6" y2="510.0" stroke="#111" stroke-width="1.05" stroke-dasharray="2.8,1.8"/>
<rect x="21.2" y="302.3" width="129.4" height="207.7" fill="none" stroke="#111" stroke-width="1"/>
<text x="17.3" y="299.4" font-size="7" fill="#222" stroke="#222" stroke-width="0.22" textLength="42.3" lengthAdjust="spacingAndGlyphs">Analysis after</text>
<text x="24" y="309.2" font-size="7" fill="#222" stroke="#222" stroke-width="0.22" textLength="29.8" lengthAdjust="spacingAndGlyphs">treatment</text>
<text x="24" y="322.6" font-size="7.2" fill="#222" stroke="#222" stroke-width="0.22" textLength="21.2" lengthAdjust="spacingAndGlyphs">6 days</text>
<text x="24" y="383.5" font-size="7.2" fill="#222" stroke="#222" stroke-width="0.22" textLength="21.2" lengthAdjust="spacingAndGlyphs">9 days</text>
<text x="24" y="417.3" font-size="7.2" fill="#222" stroke="#222" stroke-width="0.22" textLength="21.2" lengthAdjust="spacingAndGlyphs">6 days</text>
<text x="24" y="451.3" font-size="7.2" fill="#222" stroke="#222" stroke-width="0.22" textLength="21.2" lengthAdjust="spacingAndGlyphs">3 days</text>
<text x="24" y="485.09999999999997" font-size="7.2" fill="#222" stroke="#222" stroke-width="0.22" textLength="21.2" lengthAdjust="spacingAndGlyphs">8 days</text>
<text x="142" y="312.9" font-size="6.3" fill="#222" stroke="#222" stroke-width="0.22" text-anchor="end">100%</text>
<text x="125" y="320.7" font-size="6.5" fill="#222" stroke="#222" stroke-width="0.22" textLength="22.7" lengthAdjust="spacingAndGlyphs">„CAR“+</text>
<text x="143.5" y="383.3" font-size="6.3" fill="#222" stroke="#222" stroke-width="0.22" text-anchor="end">99.6%</text>
<text x="125" y="391.1" font-size="6.5" fill="#222" stroke="#222" stroke-width="0.22" textLength="22.7" lengthAdjust="spacingAndGlyphs">„CAR“+</text>
<text x="143.5" y="417.1" font-size="6.3" fill="#222" stroke="#222" stroke-width="0.22" text-anchor="end">98.1%</text>
<text x="125" y="424.90000000000003" font-size="6.5" fill="#222" stroke="#222" stroke-width="0.22" textLength="22.7" lengthAdjust="spacingAndGlyphs">„CAR“+</text>
<text x="143.5" y="451.1" font-size="6.3" fill="#222" stroke="#222" stroke-width="0.22" text-anchor="end">95.5%</text>
<text x="125" y="458.90000000000003" font-size="6.5" fill="#222" stroke="#222" stroke-width="0.22" textLength="22.7" lengthAdjust="spacingAndGlyphs">„CAR“+</text>
<text x="143.5" y="484.9" font-size="6.3" fill="#222" stroke="#222" stroke-width="0.22" text-anchor="end">99.8%</text>
<text x="125" y="492.7" font-size="6.5" fill="#222" stroke="#222" stroke-width="0.22" textLength="22.7" lengthAdjust="spacingAndGlyphs">„CAR“+</text>
<path d="M24.2,510.0 v1.9 M27.2,510.0 v1.9 M30.2,510.0 v1.9 M32.7,510.0 v1.9 M35.7,510.0 v1.9 M38.7,510.0 v1.9 M41.2,510.0 v1.9 M44.2,510.0 v1.9 M47.7,510.0 v1.9 M51.2,510.0 v1.9 M35.7,510.0 v2.8 M79.2,510.0 v2.8 M108.7,510.0 v2.8 M138.2,510.0 v2.8 M88.1,510.0 v1.0 M93.3,510.0 v1.0 M97.0,510.0 v1.0 M99.8,510.0 v1.0 M102.2,510.0 v1.0 M104.1,510.0 v1.0 M105.8,510.0 v1.0 M107.4,510.0 v1.0 M117.6,510.0 v1.0 M122.8,510.0 v1.0 M126.5,510.0 v1.0 M129.3,510.0 v1.0 M131.7,510.0 v1.0 M133.6,510.0 v1.0 M135.3,510.0 v1.0 M136.9,510.0 v1.0" stroke="#111" stroke-width="0.9"/>
<text x="35.7" y="521.2" font-size="6.4" fill="#222" stroke="#222" stroke-width="0.22" text-anchor="middle">0</text>
<text x="72.5" y="521.2" font-size="6.4" fill="#222" stroke="#222" stroke-width="0.2">10<tspan dy="-2.9" font-size="4.6">3</tspan></text>
<text x="103.10000000000001" y="521.2" font-size="6.4" fill="#222" stroke="#222" stroke-width="0.2">10<tspan dy="-2.9" font-size="4.6">4</tspan></text>
<text x="132.1" y="521.2" font-size="6.4" fill="#222" stroke="#222" stroke-width="0.2">10<tspan dy="-2.9" font-size="4.6">5</tspan></text>
<text x="56.8" y="534" font-size="8.3" font-weight="bold" fill="#2a2a2a" stroke="#2a2a2a" stroke-width="0.05" textLength="58.6" lengthAdjust="spacingAndGlyphs">BCMA CAR detection</text>
<text x="209" y="297.5" font-size="8.7" fill="#231f20" stroke="#231f20" stroke-width="0.22" textLength="102" lengthAdjust="spacingAndGlyphs">BCMA CAR DNA scheme</text>
<text x="254.6" y="313.4" font-size="8.7" fill="#231f20" stroke="#231f20" stroke-width="0.22" textLength="41.5" lengthAdjust="spacingAndGlyphs">Primer fwd</text>
<path d="M266.7,318.7 H279" stroke="#111" stroke-width="1"/><path d="M282,318.7 L277.5,316.6 L277.5,320.8 Z" fill="#111"/>
<rect x="194.8" y="322.9" width="45" height="11.6" fill="#d0101c"/>
<rect x="239.8" y="322.9" width="16.2" height="11.6" fill="#c8c8c8"/>
<rect x="256" y="322.9" width="68.1" height="11.6" fill="#8c8c8c"/>
<path d="M239.8,322.9 V334.5 M256,322.9 V334.5 M290.2,322.9 V334.5" stroke="#333" stroke-width="0.8"/>
<rect x="194.8" y="322.9" width="129.3" height="11.6" fill="none" stroke="#333" stroke-width="0.9"/>
<text x="217.3" y="331.3" font-size="6.6" fill="#f5c8c8" text-anchor="middle">aBCMA</text>
<text x="248" y="331.3" font-size="6.6" fill="#555" text-anchor="middle">TM</text>
<text x="273.1" y="331.3" font-size="6.6" fill="#3a3a3a" text-anchor="middle">4-1BB</text>
<text x="307.2" y="331.3" font-size="6.6" fill="#3a3a3a" text-anchor="middle">CD3ζ</text>
<path d="M299,339.1 H312.5" stroke="#111" stroke-width="1"/><path d="M297.2,339.1 L301.7,337 L301.7,341.2 Z" fill="#111"/>
<text x="284.8" y="350.3" font-size="8.7" fill="#231f20" stroke="#231f20" stroke-width="0.22" textLength="38.5" lengthAdjust="spacingAndGlyphs">Primer rev</text>
<text x="224.7" y="368" font-size="8.7" fill="#231f20" stroke="#231f20" stroke-width="0.22" textLength="75" lengthAdjust="spacingAndGlyphs">Gel electrophoresis</text>
<text x="192.3" y="406.6" font-size="7.8" fill="#222" stroke="#222" stroke-width="0.22">bp</text>
<text x="214.8" y="406.6" font-size="7.8" fill="#222" stroke="#222" stroke-width="0.22">M</text>
<text transform="translate(239.4,405.2) rotate(-45)" font-size="7.5" fill="#222" stroke="#222" stroke-width="0.2" textLength="9.8" lengthAdjust="spacingAndGlyphs">LP</text>
<text transform="translate(262.1,405.2) rotate(-45)" font-size="7.5" fill="#222" stroke="#222" stroke-width="0.2" textLength="26.2" lengthAdjust="spacingAndGlyphs">14 days</text>
<text transform="translate(288.8,405.9) rotate(-45)" font-size="7.5" fill="#c0282d" stroke="#c0282d" stroke-width="0.2" textLength="31" lengthAdjust="spacingAndGlyphs">LP + tec.</text>
<text transform="translate(314.7,405.9) rotate(-45)" font-size="7.5" fill="#222" stroke="#222" stroke-width="0.2" textLength="13" lengthAdjust="spacingAndGlyphs">a.d.</text>
<rect x="207.2" y="411.3" width="123.8" height="76.3" fill="url(#gelg)" stroke="#111" stroke-width="1.5"/>
<rect x="207.2" y="491.6" width="123.8" height="23" fill="url(#gelg)" stroke="#111" stroke-width="1.5"/>
<g filter="url(#bl)">
<rect x="210.9" y="416.05" width="14.7" height="1.5" rx="0.5" fill="#202020"/>
<rect x="210.9" y="419.4" width="14.7" height="1.2" rx="0.5" fill="#7a7a7a"/>
<rect x="210.9" y="422.09999999999997" width="14.7" height="1.2" rx="0.5" fill="#7e7e7e"/>
<rect x="210.9" y="425.0" width="14.7" height="1.2" rx="0.5" fill="#808080"/>
<rect x="210.9" y="428.0" width="14.7" height="1.2" rx="0.5" fill="#828282"/>
<rect x="210.9" y="431.2" width="14.7" height="1.2" rx="0.5" fill="#858585"/>
<rect x="210.9" y="434.59999999999997" width="14.7" height="1.2" rx="0.5" fill="#888"/>
<rect x="210.9" y="438.59999999999997" width="14.7" height="1.2" rx="0.5" fill="#8a8a8a"/>
<rect x="210.9" y="442.75" width="14.7" height="1.7" rx="0.5" fill="#181818"/>
<rect x="210.9" y="447.4" width="14.7" height="1.2" rx="0.5" fill="#8a8a8a"/>
<rect x="210.9" y="453.7" width="14.7" height="1.2" rx="0.5" fill="#939393"/>
<rect x="210.9" y="459.65" width="14.7" height="1.1" rx="0.5" fill="#b0b0b0"/>
<rect x="210.9" y="467.05" width="14.7" height="1.1" rx="0.5" fill="#b4b4b4"/>
<rect x="210.9" y="475.35" width="14.7" height="1.3" rx="0.5" fill="#a4a4a4"/>
<rect x="210.9" y="493.90000000000003" width="14.7" height="1.8" rx="0.5" fill="#111"/>
<rect x="210.9" y="500.3" width="14.7" height="1.4" rx="0.5" fill="#666"/>
<rect x="210.9" y="507.90000000000003" width="14.7" height="1.4" rx="0.5" fill="#6c6c6c"/>
<rect x="258.5" y="466.2" width="15.3" height="4.2" rx="1.5" fill="#5a5a5a"/>
<rect x="259.5" y="467.3" width="13.3" height="2" rx="1" fill="#3a3a3a"/>
<rect x="233.8" y="502.3" width="15.5" height="4.8" rx="2" fill="#151515"/>
<rect x="258.5" y="502.3" width="15.5" height="4.8" rx="2" fill="#151515"/>
<rect x="283" y="502.3" width="15.5" height="4.8" rx="2" fill="#151515"/>
</g>
<rect x="280.3" y="412.4" width="23" height="101.3" fill="none" stroke="#c0141c" stroke-width="1.9"/>
<text x="204.8" y="419.1" font-size="7.6" fill="#222" stroke="#222" stroke-width="0.22" text-anchor="end">1500</text>
<text x="204.8" y="445.6" font-size="7.6" fill="#222" stroke="#222" stroke-width="0.22" text-anchor="end">600</text>
<text x="204.8" y="470.9" font-size="7.6" fill="#222" stroke="#222" stroke-width="0.22" text-anchor="end">200</text>
<text x="204.8" y="478.6" font-size="7.6" fill="#222" stroke="#222" stroke-width="0.22" text-anchor="end">100</text>
<text x="204.8" y="496.2" font-size="7.6" fill="#222" stroke="#222" stroke-width="0.22" text-anchor="end">600</text>
<text x="204.8" y="502.7" font-size="7.6" fill="#222" stroke="#222" stroke-width="0.22" text-anchor="end">500</text>
<text x="204.8" y="510.2" font-size="7.6" fill="#222" stroke="#222" stroke-width="0.22" text-anchor="end">400</text>
<text x="333.6" y="472.2" font-size="7.6" fill="#222" stroke="#222" stroke-width="0.22" textLength="15.8" lengthAdjust="spacingAndGlyphs">CAR</text>
<text x="333.6" y="505.5" font-size="7.6" fill="#222" stroke="#222" stroke-width="0.22" textLength="19.6" lengthAdjust="spacingAndGlyphs">hGH1</text>
<circle cx="444.6" cy="337" r="50.4" fill="url(#cell)" stroke="#2a2a2a" stroke-width="1"/>
<circle cx="451.2" cy="349.2" r="37.0" fill="#c3d2de"/>
<circle cx="451.2" cy="349.2" r="35.800000000000004" fill="url(#ring)"/>
<circle cx="452.5" cy="347.9" r="33.9" fill="url(#nin)"/>
<path d="M429.9,326.4 A31.200000000000003,31.200000000000003 0 0 0 424.2,364.8 A40.35,40.35 0 0 1 429.9,326.4 Z" fill="#fff" opacity="1"/>
<text x="451.6" y="347.2" font-size="9.8" fill="#222" stroke="#222" stroke-width="0.22" text-anchor="middle">CD3+</text>
<text x="452.2" y="358.7" font-size="9.2" fill="#222" stroke="#222" stroke-width="0.22" text-anchor="middle">T cell</text>
<path d="M385.2,301.1 L403.4,308.7 M394.8,300 L406.9,306.5 M390,308.6 L403.1,314.1" stroke="#1a1a1a" stroke-width="2.5" fill="none"/>
<path d="M385.2,301.1 L403.4,308.7 M394.8,300 L406.9,306.5 M390,308.6 L403.1,314.1" stroke="#d8d8d8" stroke-width="0.8" fill="none"/>
<path d="M481.2,307.9 L491.6,300.1 M485.6,310.5 L501.1,298.8 M486.9,314.8 L497.7,308.4" stroke="#1a1a1a" stroke-width="2.5" fill="none"/>
<path d="M481.2,307.9 L491.6,300.1 M485.6,310.5 L501.1,298.8 M486.9,314.8 L497.7,308.4" stroke="#d8d8d8" stroke-width="0.8" fill="none"/>
<path d="M446.8,384 L446.8,397.5 M449.6,384 L449.6,399 M454.2,384 L454.2,395.5 M456.8,384 L456.8,393.5" stroke="#3a3a3a" stroke-width="2.0" fill="none"/>
<path d="M446.8,384 L446.8,397.5 M449.6,384 L449.6,399 M454.2,384 L454.2,395.5 M456.8,384 L456.8,393.5" stroke="#a8a8a8" stroke-width="0.8" fill="none"/>
<text x="424.2" y="402" font-size="9" fill="#222" stroke="#222" stroke-width="0.22" textLength="18.5" lengthAdjust="spacingAndGlyphs">CD3</text>
<text x="476.2" y="405.1" font-size="8.7" fill="#222" stroke="#222" stroke-width="0.22" textLength="35" lengthAdjust="spacingAndGlyphs">CD3 arm</text>
<path d="M462.2,448.5 C460.6,451.4 453.3,462.0 452.3,465.7 C451.4,469.4 460.1,472.5 456.5,470.5 C452.9,468.6 432.4,458.8 431.0,453.8 C429.6,448.8 446.2,439.2 447.9,440.8 C449.7,442.3 442.7,459.5 441.7,463.2 M441.1,464.4 C440.9,464.7 437.8,467.0 440.4,465.9 C442.9,464.8 455.6,458.9 456.2,457.9 C456.8,456.9 445.1,458.3 443.7,459.7 C442.3,461.1 449.1,468.5 447.7,466.3 C446.2,464.0 437.0,449.7 434.9,446.4 M444.0,460.3 C443.6,457.8 440.5,445.3 441.9,445.1 C443.2,445.0 452.4,459.4 452.1,459.3 C451.7,459.2 438.8,444.0 439.9,444.4 C440.9,444.9 455.1,461.8 458.4,462.0 C461.6,462.3 459.4,448.8 459.6,446.2 M456.8,441.1 C457.1,443.8 459.6,454.4 458.9,457.4 C458.3,460.4 453.7,460.5 452.8,459.2 C451.9,458.0 455.0,452.9 453.5,449.8 C452.1,446.7 444.2,437.7 444.0,440.4 C443.8,443.1 450.9,461.9 452.3,466.2 M452.4,458.5 C453.6,458.8 460.0,460.4 459.4,460.3 C458.8,460.2 450.3,459.6 448.9,458.0 C447.5,456.3 450.1,451.3 451.0,450.5 C452.0,449.6 454.2,451.9 454.7,452.7 C455.2,453.6 454.3,455.0 454.2,455.5 M457.7,462.8 C458.6,460.6 463.3,449.2 463.2,450.1 C463.1,451.0 459.6,469.3 457.1,468.1 C454.7,466.9 448.5,443.1 448.5,443.0 C448.4,443.0 458.2,467.3 457.1,467.9 C455.9,468.4 444.1,449.8 441.5,446.1 M458.4,456.6 C455.0,456.9 439.3,458.9 438.0,458.9 C436.8,458.9 449.9,457.7 450.7,456.6 C451.4,455.5 443.0,451.9 442.6,452.2 C442.3,452.5 447.1,456.5 448.5,458.4 C449.9,460.3 450.5,462.7 450.9,463.5" fill="none" stroke="#7987a0" stroke-width="1.9" stroke-linecap="round" stroke-linejoin="round"/>
<path d="M462.2,448.5 C460.6,451.4 453.3,462.0 452.3,465.7 C451.4,469.4 460.1,472.5 456.5,470.5 C452.9,468.6 432.4,458.8 431.0,453.8 C429.6,448.8 446.2,439.2 447.9,440.8 C449.7,442.3 442.7,459.5 441.7,463.2 M441.1,464.4 C440.9,464.7 437.8,467.0 440.4,465.9 C442.9,464.8 455.6,458.9 456.2,457.9 C456.8,456.9 445.1,458.3 443.7,459.7 C442.3,461.1 449.1,468.5 447.7,466.3 C446.2,464.0 437.0,449.7 434.9,446.4 M444.0,460.3 C443.6,457.8 440.5,445.3 441.9,445.1 C443.2,445.0 452.4,459.4 452.1,459.3 C451.7,459.2 438.8,444.0 439.9,444.4 C440.9,444.9 455.1,461.8 458.4,462.0 C461.6,462.3 459.4,448.8 459.6,446.2 M456.8,441.1 C457.1,443.8 459.6,454.4 458.9,457.4 C458.3,460.4 453.7,460.5 452.8,459.2 C451.9,458.0 455.0,452.9 453.5,449.8 C452.1,446.7 444.2,437.7 444.0,440.4 C443.8,443.1 450.9,461.9 452.3,466.2 M452.4,458.5 C453.6,458.8 460.0,460.4 459.4,460.3 C458.8,460.2 450.3,459.6 448.9,458.0 C447.5,456.3 450.1,451.3 451.0,450.5 C452.0,449.6 454.2,451.9 454.7,452.7 C455.2,453.6 454.3,455.0 454.2,455.5 M457.7,462.8 C458.6,460.6 463.3,449.2 463.2,450.1 C463.1,451.0 459.6,469.3 457.1,468.1 C454.7,466.9 448.5,443.1 448.5,443.0 C448.4,443.0 458.2,467.3 457.1,467.9 C455.9,468.4 444.1,449.8 441.5,446.1 M458.4,456.6 C455.0,456.9 439.3,458.9 438.0,458.9 C436.8,458.9 449.9,457.7 450.7,456.6 C451.4,455.5 443.0,451.9 442.6,452.2 C442.3,452.5 447.1,456.5 448.5,458.4 C449.9,460.3 450.5,462.7 450.9,463.5" fill="none" stroke="#b8c1d2" stroke-width="1.0" stroke-linecap="round" stroke-linejoin="round"/>
<path d="M458,393.7 L478.2,411 L474.6,415.3 L454.4,398 Z" fill="#1f2e6e"/>
<path d="M453,400.2 L472.5,417.8 L505.6,417.8 L505.6,423.3 L469.6,423.3 L450.1,404.5 Z" fill="#1f2e6e"/>
<path d="M505.6,426.4 L473.9,426.4 L454.4,443.5 L458,447.8 L476.1,431.2 L505.6,431.2 Z" fill="#cc1420"/>
<path d="M476.8,435.5 L479.7,439.1 L464.5,452.1 L461.6,448.5 Z" fill="#cc1420"/>
<path d="M470.2,399.8 L458,414 M462.2,436.6 L472,447.8" stroke="#fff" stroke-width="1"/>
<path d="M476.8,423.3 V426.4 M479.2,423.3 V426.4" stroke="#333" stroke-width="0.7"/>
<text x="405" y="426.2" font-size="8.6" fill="#c0282d" stroke="#c0282d" stroke-width="0.22" textLength="45.3" lengthAdjust="spacingAndGlyphs">Teclistamab</text>
<rect x="405" y="428.6" width="45.3" height="0.9" fill="#c0282d"/>
<text x="470.4" y="453.5" font-size="8.7" fill="#222" stroke="#222" stroke-width="0.22" textLength="42.6" lengthAdjust="spacingAndGlyphs">BCMA arm</text>
<text x="434" y="453.4" font-size="8.6" font-weight="bold" fill="#111" stroke="#111" stroke-width="0.05" textLength="25.8" lengthAdjust="spacingAndGlyphs">BCMA</text>
<text x="431.4" y="463.6" font-size="8.6" font-weight="bold" fill="#111" stroke="#111" stroke-width="0.05" textLength="31.4" lengthAdjust="spacingAndGlyphs">antigen</text>
<path d="M440,465 L429,478 M443,467 L432,480" stroke="#8ea9c6" stroke-width="2.4"/>
<path d="M440,465 L429,478 M443,467 L432,480" stroke="#c4d4e6" stroke-width="0.8"/>
<ellipse cx="418.6" cy="474" rx="11.8" ry="6.2" transform="rotate(-38 418.6 474)" fill="#86a7d4" stroke="#4d6f9d" stroke-width="0.8"/>
<text transform="translate(412,479.9) rotate(-38)" font-size="6.6" fill="#1d4690" stroke="#1d4690" stroke-width="0.2" textLength="16.5" lengthAdjust="spacingAndGlyphs">Biotin</text>
<path d="M414.3,483.6 V494 L404.8,503.6 M417.6,482 V495.6 L432.3,498.7 M417.9,499 L432.3,501.9 M417.2,498.4 L407,507" fill="none" stroke="#4f5e62" stroke-width="2.4" stroke-linejoin="miter"/>
<path d="M414.3,483.6 V494 L404.8,503.6 M417.6,482 V495.6 L432.3,498.7 M417.9,499 L432.3,501.9 M417.2,498.4 L407,507" fill="none" stroke="#f2f6f6" stroke-width="1.15" stroke-linejoin="miter"/>
<text x="390.8" y="513.4" font-size="7.2" fill="#222" stroke="#222" stroke-width="0.22" textLength="15.2" lengthAdjust="spacingAndGlyphs">APC</text>
<path d="M402.9,518.8 V522.3 H474.2 V518.8" fill="none" stroke="#333" stroke-width="1"/>
<text x="394.8" y="535" font-size="8.7" fill="#222" stroke="#222" stroke-width="0.22" textLength="86.2" lengthAdjust="spacingAndGlyphs">BCMA CAR detection</text>
<rect x="0.5" y="0.5" width="519" height="543" fill="none" stroke="#5e5e5e" stroke-width="1"/>
</svg></body></html>
